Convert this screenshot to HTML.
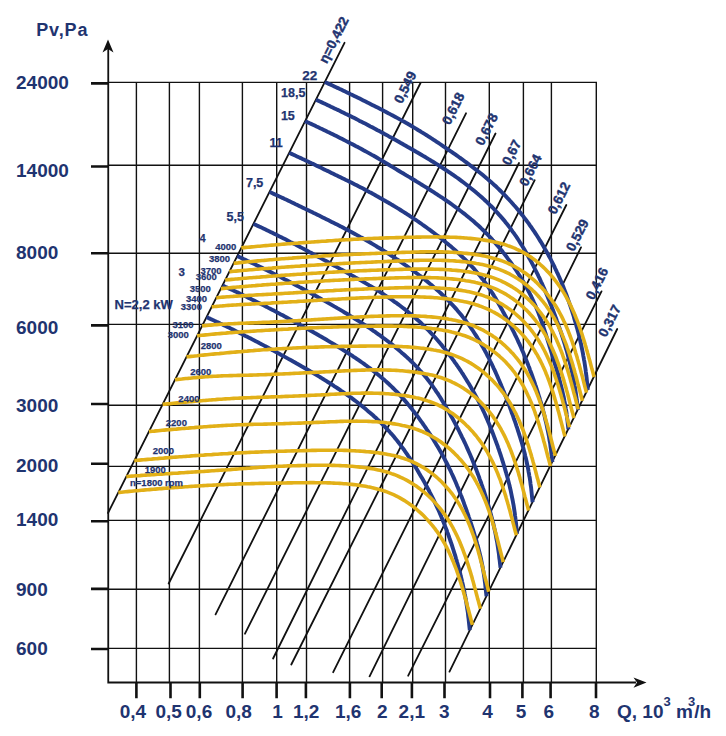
<!DOCTYPE html><html><head><meta charset="utf-8"><style>html,body{margin:0;padding:0;background:#fff;}svg{display:block;}text{font-family:"Liberation Sans",sans-serif;font-weight:bold;}</style></head><body>
<svg width="726" height="736" viewBox="0 0 726 736">
<rect width="726" height="736" fill="#fff"/>
<path d="M108.25,82.4H597M108.25,165.3H597M108.25,253.3H597M108.25,324.4H597M108.25,405.3H597M108.25,466.4H597M108.25,520.4H597M108.25,589.3H597M108.25,648.4H597M136.4,82.4V682.5M169.4,82.4V682.5M199.4,82.4V682.5M242.4,82.4V682.5M276.7,82.4V682.5M306.5,82.4V682.5M349.6,82.4V682.5M382.6,82.4V682.5M412.7,82.4V682.5M445.5,82.4V682.5M489.3,82.4V682.5M523.4,82.4V682.5M551.4,82.4V682.5M596.3,82.4V682.5" stroke="#111" stroke-width="1.4" fill="none"/>
<path d="M108,513L344.5,42.8M168.7,583.5L420.5,83M215.6,614.4L466,113.3M245,633.7L495.5,133.5M273.1,658.5L519,163M291.3,664.5L534.7,180.2M333.2,672.2L566.3,205M369.6,676.3L581,247.4M408.2,675.7L601.5,291.4M449.5,671.6L617.2,329" stroke="#111" stroke-width="1.8" fill="none" stroke-linecap="round"/>
<g fill="none" stroke="#243b88" stroke-width="3.9" stroke-linecap="butt">
<path d="M206.5,317.1 207.5,317.5 209.3,318.4 211.1,319.2 212.9,320.1 214.8,320.9 216.6,321.8 218.4,322.6 220.2,323.5 222.0,324.3 223.8,325.2 225.6,326.1 227.5,327.0 229.3,327.8 231.1,328.7 232.9,329.6 234.7,330.5 236.5,331.4 238.3,332.3 240.1,333.2 241.9,334.1 243.7,335.0 245.4,335.9 247.2,336.8 249.0,337.7 250.8,338.6 252.6,339.6 254.4,340.5 256.2,341.4 257.9,342.3 259.7,343.3 261.5,344.2 263.3,345.1 265.0,346.1 266.8,347.0 268.6,348.0 270.3,348.9 272.1,349.9 273.9,350.8 275.6,351.8 277.4,352.8 279.2,353.7 280.9,354.7 282.7,355.7 284.4,356.6 286.2,357.6 288.0,358.6 289.7,359.6 291.5,360.5 293.2,361.5 295.0,362.5 296.7,363.5 298.5,364.5 300.2,365.5 301.9,366.5 303.7,367.5 305.4,368.5 307.2,369.5 308.9,370.5 310.6,371.5 312.4,372.5 314.1,373.6 315.8,374.6 317.5,375.6 319.3,376.7 321.0,377.7 322.7,378.8 324.4,379.8 326.1,380.9 327.8,382.0 329.5,383.0 331.2,384.1 332.9,385.2 334.5,386.3 336.2,387.4 337.9,388.5 339.6,389.6 341.2,390.8 342.9,391.9 344.5,393.0 346.2,394.2 347.8,395.4 349.4,396.5 351.1,397.7 352.7,398.9 354.3,400.1 355.9,401.3 357.5,402.5 359.1,403.8 360.7,405.0 362.2,406.2 363.8,407.5 365.4,408.8 366.9,410.1 368.4,411.4 370.0,412.7 371.5,414.0 373.0,415.3 374.5,416.7 376.0,418.0 377.4,419.4 378.9,420.8 380.3,422.1 381.8,423.6 383.2,425.0 384.6,426.4 386.0,427.9 387.3,429.3 388.7,430.8 390.0,432.3 391.4,433.8 392.7,435.3 394.0,436.8 395.3,438.4 396.5,439.9 397.8,441.5 399.0,443.1 400.2,444.7 401.4,446.3 402.6,447.9 403.8,449.5 404.9,451.1 406.1,452.8 407.2,454.4 408.3,456.1 409.5,457.7 410.6,459.4 411.6,461.1 412.7,462.8 413.8,464.5 414.9,466.1 415.9,467.8 417.0,469.5 418.0,471.2 419.0,473.0 420.0,474.7 421.0,476.4 422.0,478.1 423.0,479.8 424.0,481.6 425.0,483.3 425.9,485.1 426.9,486.8 427.8,488.6 428.8,490.3 429.7,492.1 430.6,493.8 431.5,495.6 432.4,497.4 433.3,499.2 434.2,501.0 435.0,502.8 435.9,504.6 436.7,506.4 437.5,508.2 438.4,510.0 439.2,511.8 440.0,513.6 440.8,515.5 441.5,517.3 442.3,519.1 443.0,521.0 443.8,522.8 444.5,524.7 445.2,526.5 446.0,528.4 446.7,530.2 447.3,532.1 448.0,534.0 448.7,535.8 449.3,537.7 450.0,539.6 450.6,541.5 451.3,543.3 451.9,545.2 452.5,547.1 453.1,549.0 453.7,550.9 454.3,552.8 454.9,554.7 455.5,556.6 456.0,558.5 456.6,560.4 457.1,562.3 457.7,564.3 458.2,566.2 458.7,568.1 459.2,570.0 459.8,571.9 460.3,573.9 460.7,575.8 461.2,577.7 461.7,579.7 462.1,581.6 462.6,583.6 463.0,585.5 463.4,587.5 463.9,589.4 464.3,591.4 464.6,593.3 465.0,595.3 465.4,597.2 465.7,599.2 466.1,601.2 466.4,603.1 466.7,605.1 467.0,607.1 467.3,609.1 467.6,611.0 467.9,613.0 468.1,615.0 468.3,617.0 468.6,619.0 468.8,621.0 469.8,630.2"/>
<path d="M222.5,285.4 223.3,285.8 225.1,286.7 227.0,287.5 228.8,288.4 230.6,289.2 232.4,290.1 234.3,290.9 236.1,291.8 237.9,292.6 239.7,293.5 241.5,294.4 243.3,295.3 245.1,296.1 246.9,297.0 248.7,297.9 250.5,298.8 252.3,299.7 254.1,300.6 255.9,301.5 257.7,302.4 259.5,303.3 261.3,304.2 263.1,305.1 264.9,306.0 266.7,306.9 268.4,307.9 270.2,308.8 272.0,309.7 273.8,310.6 275.6,311.6 277.3,312.5 279.1,313.4 280.9,314.4 282.7,315.3 284.4,316.3 286.2,317.2 288.0,318.2 289.7,319.1 291.5,320.1 293.3,321.1 295.0,322.0 296.8,323.0 298.5,324.0 300.3,324.9 302.1,325.9 303.8,326.9 305.6,327.9 307.3,328.8 309.1,329.8 310.8,330.8 312.6,331.8 314.3,332.8 316.1,333.8 317.8,334.8 319.5,335.8 321.3,336.8 323.0,337.8 324.8,338.8 326.5,339.8 328.2,340.8 329.9,341.9 331.7,342.9 333.4,343.9 335.1,345.0 336.8,346.0 338.5,347.1 340.2,348.1 341.9,349.2 343.6,350.3 345.3,351.3 347.0,352.4 348.7,353.5 350.4,354.6 352.1,355.7 353.7,356.8 355.4,357.9 357.1,359.1 358.7,360.2 360.4,361.4 362.0,362.5 363.7,363.7 365.3,364.9 366.9,366.0 368.5,367.2 370.1,368.4 371.7,369.7 373.3,370.9 374.9,372.1 376.5,373.4 378.0,374.6 379.6,375.9 381.1,377.2 382.6,378.5 384.2,379.8 385.7,381.1 387.2,382.5 388.6,383.8 390.1,385.2 391.6,386.6 393.0,388.0 394.4,389.4 395.8,390.8 397.2,392.2 398.6,393.7 400.0,395.2 401.3,396.6 402.7,398.1 404.0,399.6 405.3,401.1 406.6,402.6 407.9,404.2 409.2,405.7 410.4,407.3 411.7,408.8 412.9,410.4 414.2,412.0 415.4,413.6 416.6,415.1 417.8,416.7 419.0,418.3 420.1,420.0 421.3,421.6 422.5,423.2 423.6,424.8 424.7,426.5 425.9,428.1 427.0,429.8 428.1,431.4 429.2,433.1 430.3,434.7 431.4,436.4 432.4,438.1 433.5,439.8 434.5,441.5 435.6,443.2 436.6,444.9 437.6,446.6 438.6,448.3 439.6,450.0 440.6,451.8 441.6,453.5 442.5,455.2 443.5,457.0 444.4,458.7 445.3,460.5 446.3,462.3 447.2,464.0 448.1,465.8 448.9,467.6 449.8,469.4 450.7,471.2 451.5,473.0 452.4,474.8 453.2,476.6 454.0,478.4 454.8,480.2 455.6,482.0 456.4,483.9 457.1,485.7 457.9,487.5 458.7,489.4 459.4,491.2 460.1,493.1 460.8,494.9 461.6,496.8 462.3,498.6 463.0,500.5 463.7,502.3 464.3,504.2 465.0,506.1 465.7,507.9 466.4,509.8 467.0,511.7 467.7,513.6 468.3,515.4 468.9,517.3 469.6,519.2 470.2,521.1 470.8,523.0 471.5,524.9 472.1,526.8 472.7,528.7 473.3,530.6 473.9,532.5 474.4,534.4 475.0,536.3 475.6,538.2 476.2,540.1 476.7,542.0 477.2,544.0 477.8,545.9 478.3,547.8 478.8,549.8 479.3,551.7 479.8,553.6 480.2,555.6 480.7,557.5 481.1,559.5 481.5,561.5 481.9,563.4 482.3,565.4 482.7,567.4 483.0,569.3 483.4,571.3 483.7,573.3 484.0,575.3 484.3,577.2 484.6,579.2 484.8,581.2 485.1,583.2 485.3,585.2 485.5,587.2 485.7,589.2 486.5,596.3"/>
<path d="M237.2,256.1 238.0,256.4 239.9,257.3 241.7,258.1 243.5,259.0 245.3,259.8 247.1,260.7 249.0,261.5 250.8,262.4 252.6,263.2 254.4,264.1 256.2,265.0 258.0,265.9 259.8,266.7 261.6,267.6 263.4,268.5 265.2,269.4 267.0,270.3 268.8,271.2 270.6,272.1 272.4,273.0 274.2,273.9 276.0,274.8 277.8,275.7 279.6,276.6 281.4,277.5 283.1,278.5 284.9,279.4 286.7,280.3 288.5,281.2 290.3,282.2 292.0,283.1 293.8,284.0 295.6,285.0 297.4,285.9 299.1,286.9 300.9,287.8 302.7,288.8 304.4,289.7 306.2,290.7 308.0,291.7 309.7,292.6 311.5,293.6 313.2,294.6 315.0,295.5 316.8,296.5 318.5,297.5 320.3,298.5 322.0,299.5 323.8,300.4 325.5,301.4 327.3,302.4 329.0,303.4 330.8,304.4 332.5,305.4 334.2,306.4 336.0,307.4 337.7,308.4 339.5,309.4 341.2,310.4 342.9,311.4 344.6,312.5 346.4,313.5 348.1,314.5 349.8,315.6 351.5,316.6 353.2,317.7 354.9,318.7 356.7,319.8 358.4,320.9 360.0,321.9 361.7,323.0 363.4,324.1 365.1,325.2 366.8,326.3 368.5,327.4 370.1,328.5 371.8,329.7 373.4,330.8 375.1,331.9 376.7,333.1 378.4,334.3 380.0,335.4 381.6,336.6 383.2,337.8 384.9,339.0 386.5,340.2 388.1,341.4 389.6,342.7 391.2,343.9 392.8,345.1 394.4,346.4 395.9,347.7 397.5,349.0 399.0,350.3 400.5,351.6 402.0,352.9 403.6,354.2 405.0,355.5 406.5,356.9 408.0,358.3 409.5,359.6 410.9,361.0 412.3,362.4 413.8,363.9 415.2,365.3 416.6,366.7 417.9,368.2 419.3,369.7 420.6,371.2 422.0,372.7 423.3,374.2 424.6,375.7 425.9,377.3 427.1,378.8 428.4,380.4 429.6,382.0 430.8,383.6 432.0,385.2 433.1,386.8 434.3,388.5 435.4,390.1 436.5,391.8 437.7,393.4 438.7,395.1 439.8,396.8 440.9,398.5 441.9,400.2 443.0,401.9 444.0,403.6 445.0,405.3 446.0,407.0 447.0,408.8 448.0,410.5 449.0,412.2 450.0,414.0 450.9,415.7 451.9,417.4 452.9,419.2 453.8,420.9 454.7,422.7 455.7,424.5 456.6,426.2 457.5,428.0 458.4,429.7 459.3,431.5 460.2,433.3 461.1,435.1 461.9,436.8 462.8,438.6 463.7,440.4 464.5,442.2 465.4,444.0 466.2,445.8 467.0,447.6 467.8,449.4 468.6,451.2 469.4,453.0 470.2,454.8 471.0,456.7 471.8,458.5 472.5,460.3 473.3,462.2 474.0,464.0 474.7,465.8 475.5,467.7 476.2,469.5 476.9,471.4 477.6,473.2 478.3,475.1 479.0,476.9 479.6,478.8 480.3,480.7 481.0,482.5 481.6,484.4 482.3,486.3 482.9,488.2 483.6,490.0 484.2,491.9 484.8,493.8 485.4,495.7 486.0,497.6 486.6,499.5 487.2,501.4 487.8,503.3 488.3,505.2 488.9,507.1 489.4,509.0 490.0,510.9 490.5,512.9 491.0,514.8 491.5,516.7 492.0,518.6 492.5,520.6 493.0,522.5 493.5,524.4 493.9,526.4 494.3,528.3 494.8,530.3 495.2,532.2 495.6,534.2 496.0,536.1 496.3,538.1 496.7,540.1 497.1,542.0 497.4,544.0 497.7,546.0 498.0,548.0 498.3,549.9 498.6,551.9 498.9,553.9 499.1,555.9 499.3,557.9 499.6,559.9 500.5,567.8"/>
<path d="M253.5,223.8 254.2,224.2 256.0,225.0 257.8,225.9 259.6,226.7 261.5,227.6 263.3,228.4 265.1,229.3 266.9,230.2 268.7,231.1 270.5,231.9 272.3,232.8 274.1,233.7 275.9,234.6 277.7,235.5 279.5,236.4 281.3,237.3 283.1,238.2 284.9,239.1 286.7,240.0 288.4,240.9 290.2,241.9 292.0,242.8 293.8,243.7 295.6,244.6 297.3,245.6 299.1,246.5 300.9,247.4 302.7,248.4 304.4,249.3 306.2,250.3 308.0,251.2 309.7,252.2 311.5,253.1 313.3,254.1 315.0,255.0 316.8,256.0 318.6,257.0 320.3,257.9 322.1,258.9 323.8,259.9 325.6,260.8 327.4,261.8 329.1,262.8 330.9,263.7 332.6,264.7 334.4,265.7 336.1,266.6 337.9,267.6 339.7,268.6 341.4,269.6 343.2,270.5 344.9,271.5 346.7,272.5 348.4,273.5 350.2,274.4 351.9,275.4 353.7,276.4 355.4,277.4 357.2,278.4 358.9,279.4 360.7,280.4 362.4,281.3 364.2,282.4 365.9,283.4 367.6,284.4 369.3,285.4 371.1,286.4 372.8,287.5 374.5,288.5 376.2,289.6 377.9,290.6 379.6,291.7 381.3,292.8 383.0,293.9 384.7,295.0 386.3,296.1 388.0,297.2 389.7,298.3 391.3,299.5 393.0,300.6 394.6,301.8 396.3,302.9 397.9,304.1 399.5,305.3 401.1,306.5 402.7,307.7 404.3,308.9 405.9,310.2 407.5,311.4 409.0,312.7 410.6,314.0 412.1,315.2 413.7,316.5 415.2,317.8 416.7,319.2 418.2,320.5 419.7,321.8 421.2,323.2 422.6,324.6 424.1,325.9 425.5,327.3 426.9,328.8 428.3,330.2 429.7,331.6 431.1,333.1 432.5,334.5 433.8,336.0 435.2,337.5 436.5,339.0 437.8,340.5 439.1,342.0 440.4,343.6 441.7,345.1 442.9,346.7 444.2,348.2 445.4,349.8 446.7,351.3 447.9,352.9 449.1,354.5 450.3,356.1 451.5,357.7 452.7,359.3 453.9,360.9 455.0,362.6 456.2,364.2 457.3,365.8 458.4,367.5 459.6,369.1 460.7,370.8 461.8,372.5 462.9,374.1 463.9,375.8 465.0,377.5 466.1,379.2 467.1,380.9 468.1,382.6 469.2,384.3 470.2,386.0 471.2,387.7 472.2,389.5 473.2,391.2 474.1,392.9 475.1,394.7 476.0,396.4 477.0,398.2 477.9,400.0 478.8,401.7 479.7,403.5 480.6,405.3 481.5,407.1 482.4,408.9 483.2,410.7 484.1,412.5 484.9,414.3 485.7,416.1 486.5,417.9 487.3,419.8 488.1,421.6 488.9,423.4 489.6,425.3 490.4,427.1 491.1,429.0 491.9,430.8 492.6,432.7 493.3,434.5 494.0,436.4 494.7,438.2 495.4,440.1 496.1,442.0 496.8,443.9 497.5,445.7 498.1,447.6 498.8,449.5 499.4,451.4 500.1,453.3 500.7,455.2 501.3,457.0 501.9,458.9 502.5,460.8 503.1,462.7 503.7,464.7 504.3,466.6 504.9,468.5 505.4,470.4 506.0,472.3 506.5,474.2 507.1,476.2 507.6,478.1 508.1,480.0 508.6,481.9 509.1,483.9 509.6,485.8 510.0,487.8 510.5,489.7 510.9,491.7 511.3,493.6 511.7,495.6 512.1,497.6 512.5,499.5 512.9,501.5 513.2,503.5 513.6,505.4 513.9,507.4 514.2,509.4 514.5,511.4 514.8,513.3 515.0,515.3 515.3,517.3 515.5,519.3 515.8,521.3 516.0,523.3 516.2,525.3 516.4,527.3 517.0,534.0"/>
<path d="M269.5,191.9 270.2,192.2 272.0,193.0 273.8,193.9 275.6,194.7 277.5,195.6 279.3,196.4 281.1,197.3 282.9,198.1 284.7,199.0 286.6,199.8 288.4,200.7 290.2,201.6 292.0,202.4 293.8,203.3 295.6,204.2 297.4,205.0 299.2,205.9 301.0,206.8 302.8,207.7 304.6,208.6 306.5,209.4 308.3,210.3 310.1,211.2 311.9,212.1 313.7,213.0 315.5,213.8 317.3,214.7 319.1,215.6 320.9,216.5 322.7,217.4 324.5,218.3 326.3,219.2 328.1,220.1 329.9,221.0 331.7,221.9 333.5,222.8 335.3,223.7 337.1,224.6 338.9,225.5 340.7,226.4 342.4,227.3 344.2,228.3 346.0,229.2 347.8,230.1 349.6,231.1 351.3,232.0 353.1,233.0 354.9,234.0 356.6,234.9 358.4,235.9 360.1,236.9 361.9,237.8 363.6,238.8 365.4,239.8 367.1,240.8 368.9,241.8 370.6,242.8 372.4,243.9 374.1,244.9 375.8,245.9 377.5,247.0 379.3,248.0 381.0,249.0 382.7,250.1 384.4,251.2 386.1,252.2 387.8,253.3 389.5,254.4 391.2,255.5 392.9,256.6 394.6,257.7 396.2,258.8 397.9,259.9 399.6,261.1 401.2,262.2 402.9,263.4 404.6,264.5 406.2,265.7 407.8,266.8 409.5,268.0 411.1,269.2 412.7,270.4 414.4,271.6 416.0,272.8 417.6,274.0 419.2,275.2 420.8,276.4 422.4,277.7 424.0,278.9 425.5,280.2 427.1,281.4 428.7,282.7 430.2,284.0 431.8,285.3 433.3,286.6 434.8,287.9 436.3,289.2 437.8,290.6 439.3,291.9 440.8,293.3 442.3,294.7 443.7,296.0 445.2,297.5 446.6,298.9 448.1,300.3 449.5,301.7 450.9,303.2 452.2,304.7 453.6,306.1 455.0,307.6 456.3,309.1 457.6,310.7 458.9,312.2 460.2,313.7 461.5,315.3 462.7,316.9 464.0,318.5 465.2,320.0 466.4,321.7 467.6,323.3 468.8,324.9 470.0,326.5 471.1,328.2 472.3,329.8 473.4,331.5 474.5,333.2 475.6,334.9 476.7,336.6 477.7,338.3 478.8,340.0 479.8,341.7 480.8,343.5 481.8,345.2 482.8,346.9 483.8,348.7 484.7,350.4 485.7,352.2 486.6,354.0 487.5,355.8 488.5,357.5 489.4,359.3 490.2,361.1 491.1,362.9 492.0,364.7 492.9,366.5 493.7,368.3 494.6,370.1 495.4,371.9 496.2,373.7 497.0,375.6 497.8,377.4 498.6,379.2 499.4,381.0 500.2,382.9 501.0,384.7 501.7,386.5 502.5,388.4 503.2,390.2 504.0,392.1 504.7,393.9 505.4,395.8 506.2,397.6 506.9,399.5 507.6,401.3 508.3,403.2 509.0,405.0 509.7,406.9 510.4,408.7 511.1,410.6 511.7,412.5 512.4,414.3 513.1,416.2 513.7,418.1 514.4,420.0 515.1,421.8 515.7,423.7 516.3,425.6 517.0,427.5 517.6,429.4 518.2,431.3 518.8,433.2 519.4,435.1 520.0,437.0 520.6,438.9 521.2,440.8 521.8,442.7 522.3,444.6 522.8,446.5 523.4,448.4 523.9,450.4 524.4,452.3 524.9,454.2 525.3,456.2 525.8,458.1 526.3,460.1 526.7,462.0 527.1,464.0 527.5,465.9 527.9,467.9 528.3,469.9 528.6,471.8 529.0,473.8 529.3,475.8 529.7,477.7 530.0,479.7 530.3,481.7 530.5,483.7 530.8,485.7 531.1,487.6 531.3,489.6 531.5,491.6 531.7,493.6 531.9,495.6 532.6,502.3"/>
<path d="M289.2,152.8 289.7,153.1 291.6,153.9 293.4,154.7 295.2,155.6 297.0,156.4 298.9,157.3 300.7,158.1 302.5,159.0 304.3,159.8 306.1,160.7 308.0,161.5 309.8,162.4 311.6,163.3 313.4,164.1 315.2,165.0 317.0,165.9 318.8,166.7 320.6,167.6 322.4,168.5 324.2,169.4 326.0,170.3 327.9,171.1 329.7,172.0 331.5,172.9 333.3,173.8 335.1,174.7 336.9,175.5 338.7,176.4 340.5,177.3 342.3,178.2 344.1,179.1 345.9,180.0 347.7,180.8 349.5,181.7 351.3,182.6 353.1,183.5 354.9,184.4 356.7,185.3 358.5,186.3 360.3,187.2 362.1,188.1 363.9,189.0 365.6,190.0 367.4,190.9 369.2,191.9 371.0,192.8 372.7,193.8 374.5,194.7 376.2,195.7 378.0,196.7 379.7,197.7 381.5,198.7 383.2,199.7 385.0,200.7 386.7,201.7 388.5,202.7 390.2,203.7 391.9,204.8 393.6,205.8 395.4,206.8 397.1,207.9 398.8,208.9 400.5,210.0 402.2,211.1 403.9,212.2 405.6,213.2 407.3,214.3 409.0,215.4 410.7,216.5 412.3,217.6 414.0,218.8 415.7,219.9 417.3,221.0 419.0,222.2 420.7,223.3 422.3,224.5 423.9,225.6 425.6,226.8 427.2,228.0 428.8,229.2 430.5,230.4 432.1,231.6 433.7,232.8 435.3,234.0 436.9,235.2 438.5,236.4 440.1,237.7 441.7,238.9 443.2,240.2 444.8,241.4 446.3,242.7 447.9,244.0 449.4,245.3 451.0,246.6 452.5,247.9 454.0,249.2 455.5,250.5 457.0,251.9 458.5,253.2 460.0,254.6 461.4,256.0 462.9,257.4 464.3,258.8 465.8,260.2 467.2,261.6 468.6,263.1 470.0,264.5 471.3,266.0 472.7,267.4 474.1,268.9 475.4,270.4 476.7,272.0 478.0,273.5 479.3,275.0 480.6,276.6 481.8,278.2 483.1,279.7 484.3,281.3 485.5,283.0 486.6,284.6 487.8,286.2 488.9,287.9 490.0,289.5 491.1,291.2 492.2,292.9 493.3,294.6 494.3,296.3 495.4,298.0 496.4,299.8 497.4,301.5 498.4,303.2 499.4,305.0 500.3,306.7 501.3,308.5 502.3,310.2 503.2,312.0 504.2,313.7 505.1,315.5 506.1,317.2 507.0,319.0 508.0,320.7 508.9,322.5 509.8,324.3 510.7,326.0 511.6,327.8 512.5,329.6 513.4,331.4 514.3,333.1 515.1,334.9 516.0,336.7 516.9,338.5 517.7,340.3 518.5,342.1 519.4,343.9 520.2,345.7 521.0,347.5 521.8,349.4 522.6,351.2 523.4,353.0 524.1,354.8 524.9,356.7 525.6,358.5 526.4,360.4 527.1,362.2 527.8,364.0 528.5,365.9 529.3,367.8 529.9,369.6 530.6,371.5 531.3,373.3 532.0,375.2 532.7,377.1 533.3,379.0 534.0,380.8 534.6,382.7 535.2,384.6 535.9,386.5 536.5,388.4 537.1,390.3 537.7,392.2 538.3,394.1 538.9,396.0 539.5,397.9 540.0,399.8 540.6,401.7 541.2,403.6 541.7,405.5 542.2,407.4 542.8,409.4 543.3,411.3 543.8,413.2 544.3,415.1 544.8,417.1 545.2,419.0 545.7,421.0 546.2,422.9 546.6,424.9 547.0,426.8 547.4,428.8 547.8,430.7 548.2,432.7 548.6,434.7 549.0,436.6 549.3,438.6 549.6,440.6 550.0,442.5 550.3,444.5 550.5,446.5 550.8,448.5 551.1,450.5 551.3,452.5 551.5,454.5 551.8,456.4 552.4,462.1"/>
<path d="M305.1,121.1 305.6,121.4 307.4,122.2 309.2,123.1 311.1,123.9 312.9,124.7 314.7,125.6 316.5,126.5 318.3,127.3 320.1,128.2 322.0,129.0 323.8,129.9 325.6,130.8 327.4,131.7 329.2,132.5 331.0,133.4 332.8,134.3 334.6,135.2 336.4,136.1 338.2,137.0 340.0,137.9 341.8,138.8 343.6,139.7 345.3,140.6 347.1,141.6 348.9,142.5 350.7,143.4 352.5,144.3 354.3,145.3 356.0,146.2 357.8,147.1 359.6,148.1 361.4,149.0 363.1,150.0 364.9,151.0 366.6,151.9 368.4,152.9 370.2,153.9 371.9,154.9 373.7,155.8 375.4,156.8 377.1,157.8 378.9,158.9 380.6,159.9 382.3,160.9 384.1,161.9 385.8,163.0 387.5,164.0 389.2,165.0 390.9,166.1 392.7,167.1 394.4,168.1 396.1,169.2 397.8,170.2 399.5,171.2 401.3,172.3 403.0,173.3 404.7,174.3 406.4,175.4 408.1,176.4 409.9,177.4 411.6,178.5 413.3,179.5 415.0,180.5 416.7,181.6 418.4,182.6 420.1,183.7 421.8,184.7 423.6,185.8 425.3,186.8 427.0,187.9 428.6,189.0 430.3,190.0 432.0,191.1 433.7,192.2 435.4,193.3 437.1,194.4 438.8,195.5 440.4,196.6 442.1,197.7 443.8,198.8 445.4,199.9 447.1,201.1 448.7,202.2 450.4,203.4 452.0,204.5 453.6,205.7 455.2,206.9 456.9,208.0 458.5,209.2 460.1,210.5 461.7,211.7 463.2,212.9 464.8,214.1 466.4,215.4 468.0,216.7 469.5,217.9 471.0,219.2 472.6,220.5 474.1,221.8 475.6,223.2 477.1,224.5 478.6,225.8 480.1,227.2 481.5,228.6 483.0,230.0 484.4,231.4 485.8,232.8 487.2,234.2 488.6,235.7 490.0,237.1 491.4,238.6 492.7,240.1 494.1,241.6 495.4,243.1 496.7,244.6 498.0,246.1 499.3,247.7 500.6,249.2 501.9,250.8 503.1,252.4 504.4,254.0 505.6,255.5 506.8,257.1 508.0,258.8 509.2,260.4 510.4,262.0 511.6,263.6 512.7,265.3 513.9,266.9 515.0,268.6 516.1,270.3 517.2,272.0 518.3,273.7 519.4,275.4 520.4,277.1 521.5,278.8 522.5,280.5 523.6,282.2 524.6,284.0 525.6,285.7 526.5,287.5 527.5,289.2 528.4,291.0 529.4,292.8 530.3,294.6 531.2,296.4 532.0,298.2 532.9,300.0 533.7,301.8 534.6,303.7 535.4,305.5 536.2,307.4 536.9,309.2 537.7,311.1 538.4,312.9 539.1,314.8 539.8,316.7 540.5,318.6 541.2,320.5 541.9,322.3 542.5,324.2 543.2,326.1 543.8,328.0 544.4,329.9 545.0,331.8 545.6,333.7 546.2,335.6 546.8,337.5 547.4,339.4 548.0,341.3 548.6,343.3 549.2,345.2 549.8,347.1 550.4,349.0 551.0,350.9 551.5,352.8 552.1,354.7 552.7,356.6 553.3,358.5 553.9,360.4 554.4,362.3 555.0,364.2 555.6,366.1 556.2,368.0 556.7,369.9 557.3,371.8 557.8,373.8 558.4,375.7 558.9,377.6 559.4,379.5 559.9,381.4 560.4,383.4 560.9,385.3 561.4,387.3 561.9,389.2 562.4,391.1 562.8,393.1 563.2,395.1 563.7,397.0 564.1,399.0 564.4,400.9 564.8,402.9 565.2,404.9 565.5,406.8 565.8,408.8 566.2,410.8 566.5,412.8 566.7,414.8 567.0,416.8 567.2,418.7 567.5,420.7 567.7,422.7 567.9,424.7 568.4,429.4"/>
<path d="M315.9,99.7 316.3,99.9 318.2,100.7 320.0,101.6 321.8,102.4 323.6,103.2 325.5,104.1 327.3,104.9 329.1,105.8 330.9,106.7 332.7,107.5 334.5,108.4 336.4,109.3 338.2,110.1 340.0,111.0 341.8,111.9 343.6,112.8 345.4,113.7 347.2,114.5 349.0,115.4 350.8,116.3 352.6,117.2 354.4,118.1 356.2,119.0 357.9,119.9 359.7,120.9 361.5,121.8 363.3,122.7 365.1,123.6 366.9,124.5 368.7,125.5 370.4,126.4 372.2,127.3 374.0,128.3 375.8,129.2 377.5,130.2 379.3,131.1 381.1,132.1 382.8,133.0 384.6,134.0 386.4,134.9 388.1,135.9 389.9,136.9 391.7,137.8 393.4,138.8 395.2,139.8 396.9,140.7 398.7,141.7 400.4,142.7 402.2,143.7 403.9,144.7 405.7,145.7 407.4,146.7 409.2,147.7 410.9,148.7 412.7,149.7 414.4,150.7 416.1,151.7 417.9,152.7 419.6,153.7 421.3,154.7 423.1,155.8 424.8,156.8 426.5,157.8 428.2,158.9 429.9,159.9 431.6,161.0 433.4,162.0 435.1,163.1 436.8,164.2 438.5,165.2 440.2,166.3 441.8,167.4 443.5,168.5 445.2,169.6 446.9,170.7 448.6,171.8 450.2,172.9 451.9,174.1 453.5,175.2 455.2,176.4 456.8,177.5 458.5,178.7 460.1,179.9 461.7,181.1 463.3,182.3 464.9,183.5 466.5,184.7 468.1,185.9 469.7,187.2 471.2,188.4 472.8,189.7 474.4,191.0 475.9,192.3 477.4,193.6 479.0,194.9 480.5,196.2 482.0,197.5 483.5,198.9 484.9,200.2 486.4,201.6 487.9,203.0 489.3,204.4 490.7,205.8 492.2,207.2 493.6,208.7 495.0,210.1 496.3,211.6 497.7,213.1 499.0,214.6 500.4,216.1 501.7,217.6 503.0,219.1 504.3,220.6 505.5,222.2 506.8,223.8 508.0,225.3 509.2,226.9 510.5,228.5 511.6,230.1 512.8,231.8 514.0,233.4 515.1,235.0 516.3,236.7 517.4,238.3 518.5,240.0 519.6,241.7 520.6,243.4 521.7,245.1 522.7,246.8 523.8,248.5 524.8,250.2 525.8,251.9 526.8,253.7 527.8,255.4 528.7,257.2 529.7,258.9 530.7,260.7 531.6,262.4 532.5,264.2 533.4,265.9 534.3,267.7 535.2,269.5 536.1,271.3 537.0,273.1 537.9,274.9 538.7,276.6 539.6,278.4 540.4,280.2 541.2,282.0 542.1,283.9 542.9,285.7 543.7,287.5 544.5,289.3 545.2,291.1 546.0,292.9 546.8,294.8 547.6,296.6 548.3,298.4 549.1,300.3 549.8,302.1 550.5,303.9 551.3,305.8 552.0,307.6 552.7,309.5 553.4,311.3 554.1,313.2 554.8,315.0 555.5,316.9 556.2,318.7 556.8,320.6 557.5,322.4 558.2,324.3 558.8,326.2 559.5,328.1 560.1,329.9 560.8,331.8 561.4,333.7 562.0,335.6 562.6,337.4 563.2,339.3 563.8,341.2 564.4,343.1 565.0,345.0 565.5,346.9 566.1,348.8 566.7,350.7 567.2,352.6 567.7,354.6 568.2,356.5 568.7,358.4 569.2,360.3 569.7,362.3 570.2,364.2 570.7,366.1 571.1,368.1 571.5,370.0 572.0,371.9 572.4,373.9 572.8,375.8 573.2,377.8 573.6,379.7 573.9,381.7 574.3,383.7 574.6,385.6 575.0,387.6 575.3,389.6 575.6,391.5 575.9,393.5 576.2,395.5 576.5,397.5 576.7,399.4 577.0,401.4 577.2,403.4 578.0,409.9"/>
<path d="M324.8,82.0 325.2,82.2 327.0,83.0 328.8,83.9 330.7,84.7 332.5,85.6 334.3,86.4 336.1,87.3 337.9,88.1 339.8,89.0 341.6,89.8 343.4,90.7 345.2,91.6 347.0,92.4 348.8,93.3 350.6,94.2 352.4,95.0 354.2,95.9 356.0,96.8 357.9,97.7 359.7,98.6 361.5,99.5 363.3,100.4 365.1,101.3 366.9,102.2 368.6,103.1 370.4,104.0 372.2,104.9 374.0,105.8 375.8,106.7 377.6,107.6 379.4,108.5 381.2,109.4 383.0,110.4 384.7,111.3 386.5,112.2 388.3,113.2 390.1,114.1 391.8,115.1 393.6,116.0 395.4,117.0 397.1,117.9 398.9,118.9 400.7,119.9 402.4,120.9 404.2,121.8 405.9,122.8 407.7,123.8 409.4,124.8 411.1,125.8 412.9,126.9 414.6,127.9 416.3,128.9 418.0,130.0 419.8,131.0 421.5,132.1 423.2,133.1 424.9,134.2 426.6,135.2 428.3,136.3 430.0,137.4 431.6,138.5 433.3,139.6 435.0,140.7 436.7,141.8 438.4,142.9 440.0,144.0 441.7,145.2 443.4,146.3 445.0,147.4 446.7,148.5 448.3,149.7 450.0,150.8 451.6,151.9 453.3,153.1 454.9,154.2 456.6,155.4 458.2,156.5 459.8,157.7 461.5,158.9 463.1,160.0 464.7,161.2 466.3,162.4 467.9,163.6 469.5,164.8 471.1,166.0 472.7,167.2 474.3,168.4 475.9,169.6 477.5,170.8 479.0,172.1 480.6,173.3 482.2,174.6 483.7,175.8 485.2,177.1 486.8,178.4 488.3,179.7 489.8,181.0 491.3,182.3 492.8,183.6 494.3,185.0 495.8,186.3 497.2,187.7 498.7,189.1 500.1,190.5 501.5,191.9 502.9,193.3 504.3,194.7 505.7,196.1 507.1,197.6 508.5,199.0 509.8,200.5 511.2,202.0 512.5,203.5 513.8,205.0 515.2,206.5 516.5,208.0 517.7,209.5 519.0,211.1 520.3,212.6 521.5,214.2 522.8,215.7 524.0,217.3 525.2,218.9 526.4,220.5 527.6,222.1 528.8,223.7 529.9,225.4 531.1,227.0 532.2,228.6 533.4,230.3 534.5,231.9 535.6,233.6 536.7,235.3 537.8,237.0 538.9,238.7 539.9,240.4 541.0,242.1 542.0,243.8 543.0,245.5 544.0,247.2 545.0,249.0 546.0,250.7 547.0,252.4 548.0,254.2 548.9,256.0 549.9,257.7 550.8,259.5 551.7,261.3 552.6,263.1 553.5,264.9 554.4,266.7 555.2,268.5 556.1,270.3 556.9,272.1 557.8,273.9 558.6,275.7 559.4,277.6 560.2,279.4 561.0,281.2 561.7,283.1 562.5,284.9 563.3,286.8 564.0,288.6 564.7,290.5 565.4,292.4 566.2,294.2 566.9,296.1 567.5,298.0 568.2,299.9 568.9,301.8 569.5,303.6 570.2,305.5 570.8,307.4 571.5,309.3 572.1,311.2 572.7,313.1 573.3,315.0 573.9,317.0 574.4,318.9 575.0,320.8 575.6,322.7 576.1,324.6 576.6,326.6 577.2,328.5 577.7,330.4 578.2,332.4 578.7,334.3 579.2,336.3 579.6,338.2 580.1,340.1 580.5,342.1 581.0,344.0 581.4,346.0 581.8,348.0 582.2,349.9 582.6,351.9 583.0,353.9 583.3,355.8 583.7,357.8 584.0,359.8 584.4,361.7 584.7,363.7 585.0,365.7 585.3,367.7 585.6,369.7 585.8,371.7 586.1,373.6 586.3,375.6 586.6,377.6 586.8,379.6 587.0,381.6 587.2,383.6 587.4,385.6 587.8,389.9"/>
</g>
<g fill="none" stroke="#e2b018" stroke-width="3.6" stroke-linecap="butt">
<path d="M118.3,492.5 119.4,492.4 121.4,492.2 123.4,492.0 125.4,491.8 127.4,491.6 129.4,491.4 131.4,491.2 133.4,491.0 135.4,490.8 137.4,490.7 139.4,490.5 141.4,490.3 143.4,490.1 145.4,489.9 147.4,489.8 149.4,489.6 151.4,489.4 153.4,489.3 155.4,489.1 157.4,488.9 159.4,488.8 161.4,488.6 163.4,488.4 165.4,488.3 167.4,488.1 169.4,488.0 171.4,487.8 173.4,487.7 175.4,487.5 177.4,487.4 179.4,487.2 181.4,487.1 183.4,487.0 185.4,486.8 187.4,486.7 189.4,486.5 191.4,486.4 193.5,486.3 195.5,486.1 197.5,486.0 199.5,485.9 201.5,485.8 203.5,485.6 205.5,485.5 207.5,485.4 209.5,485.3 211.5,485.2 213.5,485.1 215.5,485.0 217.5,484.9 219.5,484.8 221.5,484.7 223.5,484.6 225.5,484.5 227.5,484.4 229.5,484.3 231.5,484.2 233.6,484.2 235.6,484.1 237.6,484.0 239.6,483.9 241.6,483.9 243.6,483.8 245.6,483.8 247.6,483.7 249.6,483.7 251.6,483.6 253.6,483.6 255.6,483.5 257.6,483.5 259.6,483.4 261.7,483.4 263.7,483.4 265.7,483.3 267.7,483.3 269.7,483.3 271.7,483.2 273.7,483.2 275.7,483.1 277.7,483.1 279.7,483.1 281.7,483.0 283.7,483.0 285.7,483.0 287.7,482.9 289.8,482.9 291.8,482.9 293.8,482.8 295.8,482.8 297.8,482.8 299.8,482.7 301.8,482.7 303.8,482.7 305.8,482.7 307.8,482.7 309.8,482.6 311.8,482.6 313.8,482.6 315.8,482.7 317.8,482.7 319.8,482.7 321.8,482.7 323.8,482.8 325.8,482.8 327.8,482.9 329.8,482.9 331.8,483.0 333.8,483.1 335.8,483.2 337.8,483.3 339.8,483.4 341.8,483.5 343.8,483.7 345.8,483.8 347.8,484.0 349.8,484.2 351.8,484.4 353.8,484.6 355.7,484.8 357.7,485.1 359.7,485.4 361.7,485.7 363.7,486.0 365.6,486.3 367.6,486.7 369.5,487.0 371.5,487.5 373.4,487.9 375.4,488.4 377.3,488.9 379.2,489.4 381.1,490.0 383.0,490.6 384.9,491.2 386.8,491.9 388.6,492.6 390.4,493.3 392.3,494.1 394.1,494.9 395.9,495.8 397.6,496.7 399.4,497.6 401.1,498.6 402.8,499.6 404.5,500.6 406.2,501.7 407.8,502.8 409.5,503.9 411.1,505.0 412.7,506.2 414.2,507.4 415.8,508.7 417.3,510.0 418.8,511.3 420.3,512.6 421.7,513.9 423.2,515.3 424.6,516.7 425.9,518.1 427.3,519.6 428.6,521.1 429.9,522.6 431.2,524.1 432.5,525.6 433.7,527.2 434.9,528.7 436.1,530.3 437.3,531.9 438.4,533.6 439.5,535.2 440.6,536.9 441.6,538.6 442.7,540.3 443.7,542.0 444.7,543.7 445.6,545.5 446.6,547.2 447.5,549.0 448.4,550.8 449.2,552.6 450.1,554.4 450.9,556.2 451.7,558.1 452.5,559.9 453.3,561.7 454.0,563.6 454.8,565.5 455.5,567.3 456.2,569.2 456.9,571.1 457.5,573.0 458.2,574.9 458.8,576.8 459.5,578.7 460.1,580.6 460.7,582.5 461.3,584.4 461.9,586.3 462.5,588.2 463.0,590.2 463.6,592.1 464.1,594.0 464.7,595.9 465.2,597.9 465.8,599.8 466.3,601.8 466.8,603.7 467.3,605.6 467.8,607.6 468.4,609.5 468.9,611.5 469.4,613.4 469.9,615.3 470.4,617.3 470.9,619.2 472.4,624.9"/>
<path d="M126.3,476.6 127.8,476.5 129.8,476.3 131.8,476.1 133.8,476.0 135.8,475.8 137.8,475.7 139.8,475.6 141.8,475.4 143.8,475.3 145.8,475.1 147.8,475.0 149.8,474.9 151.8,474.7 153.8,474.6 155.8,474.5 157.8,474.3 159.8,474.2 161.8,474.1 163.8,474.0 165.8,473.8 167.8,473.7 169.8,473.6 171.8,473.4 173.8,473.3 175.8,473.2 177.8,473.1 179.8,472.9 181.8,472.8 183.8,472.7 185.8,472.5 187.8,472.4 189.9,472.3 191.9,472.1 193.9,472.0 195.9,471.9 197.9,471.8 199.9,471.6 201.9,471.5 203.9,471.4 205.9,471.2 207.9,471.1 209.9,471.0 211.9,470.8 213.9,470.7 215.9,470.5 217.9,470.4 219.9,470.3 221.9,470.1 223.9,470.0 225.9,469.9 227.9,469.7 229.9,469.6 231.9,469.4 233.9,469.3 235.9,469.1 237.9,469.0 239.9,468.8 241.9,468.7 243.9,468.5 245.9,468.4 247.9,468.2 249.9,468.1 251.9,467.9 253.9,467.8 255.9,467.6 257.9,467.5 259.9,467.3 261.9,467.2 263.9,467.1 265.9,467.0 267.9,466.8 269.9,466.7 271.9,466.6 273.9,466.5 276.0,466.4 278.0,466.3 280.0,466.2 282.0,466.2 284.0,466.1 286.0,466.0 288.0,465.9 290.0,465.9 292.0,465.8 294.0,465.7 296.0,465.7 298.0,465.6 300.0,465.6 302.0,465.5 304.0,465.5 306.1,465.4 308.1,465.4 310.1,465.4 312.1,465.3 314.1,465.3 316.1,465.3 318.1,465.3 320.1,465.3 322.1,465.3 324.1,465.3 326.1,465.3 328.1,465.3 330.1,465.3 332.1,465.4 334.1,465.4 336.1,465.5 338.2,465.5 340.2,465.6 342.2,465.7 344.2,465.8 346.2,465.9 348.2,466.0 350.2,466.2 352.2,466.3 354.2,466.5 356.2,466.7 358.2,466.9 360.1,467.1 362.1,467.3 364.1,467.5 366.1,467.8 368.1,468.1 370.1,468.4 372.1,468.7 374.0,469.1 376.0,469.5 378.0,469.9 379.9,470.3 381.8,470.8 383.8,471.3 385.7,471.8 387.6,472.3 389.5,472.9 391.4,473.6 393.3,474.2 395.2,474.9 397.0,475.7 398.9,476.5 400.7,477.3 402.5,478.1 404.3,479.0 406.0,479.9 407.8,480.9 409.5,481.9 411.2,482.9 412.9,483.9 414.5,485.0 416.2,486.1 417.8,487.3 419.4,488.4 421.0,489.6 422.5,490.9 424.1,492.1 425.6,493.4 427.1,494.7 428.5,496.0 430.0,497.4 431.4,498.8 432.8,500.2 434.1,501.6 435.5,503.1 436.8,504.6 438.1,506.1 439.4,507.6 440.6,509.1 441.8,510.7 443.0,512.3 444.2,513.9 445.4,515.5 446.5,517.1 447.6,518.8 448.6,520.5 449.7,522.2 450.7,523.9 451.7,525.6 452.7,527.3 453.6,529.1 454.5,530.8 455.4,532.6 456.3,534.4 457.2,536.2 458.0,538.0 458.8,539.8 459.6,541.6 460.4,543.5 461.1,545.3 461.9,547.2 462.6,549.0 463.3,550.9 464.0,552.8 464.7,554.7 465.4,556.5 466.0,558.4 466.7,560.3 467.3,562.2 467.9,564.1 468.5,566.0 469.1,568.0 469.7,569.9 470.3,571.8 470.9,573.7 471.4,575.6 472.0,577.6 472.5,579.5 473.1,581.4 473.6,583.4 474.1,585.3 474.6,587.2 475.2,589.2 475.7,591.1 476.2,593.1 476.7,595.0 477.2,596.9 477.7,598.9 478.3,600.8 478.8,602.8 480.4,608.7"/>
<path d="M134.3,460.6 135.6,460.5 137.6,460.3 139.6,460.1 141.6,459.9 143.6,459.8 145.6,459.6 147.6,459.4 149.6,459.2 151.6,459.1 153.6,458.9 155.6,458.7 157.6,458.6 159.6,458.4 161.6,458.2 163.6,458.1 165.6,457.9 167.6,457.7 169.6,457.6 171.6,457.4 173.6,457.3 175.6,457.1 177.6,457.0 179.6,456.8 181.6,456.7 183.6,456.5 185.6,456.4 187.6,456.2 189.6,456.1 191.6,455.9 193.6,455.8 195.6,455.6 197.6,455.5 199.6,455.4 201.6,455.2 203.6,455.1 205.6,454.9 207.6,454.8 209.7,454.7 211.7,454.6 213.7,454.4 215.7,454.3 217.7,454.2 219.7,454.0 221.7,453.9 223.7,453.8 225.7,453.7 227.7,453.6 229.7,453.4 231.7,453.3 233.7,453.2 235.7,453.1 237.7,453.0 239.7,452.9 241.7,452.8 243.7,452.7 245.7,452.6 247.7,452.5 249.7,452.4 251.7,452.3 253.7,452.2 255.7,452.1 257.8,452.1 259.8,452.0 261.8,451.9 263.8,451.8 265.8,451.7 267.8,451.7 269.8,451.6 271.8,451.5 273.8,451.5 275.8,451.4 277.8,451.3 279.8,451.3 281.8,451.2 283.8,451.2 285.8,451.1 287.8,451.0 289.9,451.0 291.9,450.9 293.9,450.9 295.9,450.8 297.9,450.8 299.9,450.7 301.9,450.7 303.9,450.6 305.9,450.6 307.9,450.5 309.9,450.5 311.9,450.4 313.9,450.4 315.9,450.4 317.9,450.3 319.9,450.3 322.0,450.3 324.0,450.3 326.0,450.2 328.0,450.2 330.0,450.2 332.0,450.2 334.0,450.2 336.0,450.2 338.0,450.3 340.0,450.3 342.0,450.3 344.0,450.4 346.0,450.4 348.0,450.5 350.0,450.6 352.0,450.7 354.0,450.7 356.0,450.9 358.0,451.0 360.0,451.1 362.0,451.2 364.0,451.4 366.0,451.6 368.0,451.7 370.0,451.9 372.0,452.1 373.9,452.3 375.9,452.6 377.9,452.8 379.9,453.1 381.9,453.4 383.9,453.7 385.8,454.0 387.8,454.4 389.8,454.8 391.7,455.2 393.7,455.6 395.6,456.1 397.6,456.6 399.5,457.1 401.4,457.7 403.4,458.3 405.3,459.0 407.2,459.6 409.0,460.4 410.9,461.1 412.8,461.9 414.6,462.8 416.4,463.7 418.2,464.6 420.0,465.6 421.7,466.6 423.5,467.6 425.2,468.7 426.9,469.8 428.5,471.0 430.2,472.1 431.8,473.4 433.4,474.6 435.0,475.9 436.5,477.2 438.0,478.5 439.5,479.9 441.0,481.3 442.4,482.7 443.8,484.2 445.2,485.7 446.6,487.2 447.9,488.7 449.2,490.2 450.5,491.8 451.8,493.4 453.0,495.0 454.2,496.7 455.3,498.3 456.5,500.0 457.6,501.7 458.7,503.4 459.7,505.1 460.7,506.9 461.7,508.6 462.7,510.4 463.6,512.2 464.5,514.0 465.4,515.8 466.3,517.7 467.1,519.5 467.9,521.4 468.7,523.2 469.5,525.1 470.2,527.0 470.9,528.8 471.6,530.7 472.3,532.6 473.0,534.5 473.7,536.4 474.3,538.3 474.9,540.2 475.5,542.2 476.1,544.1 476.7,546.0 477.3,547.9 477.9,549.9 478.4,551.8 478.9,553.7 479.5,555.7 480.0,557.6 480.5,559.6 481.0,561.5 481.6,563.4 482.1,565.4 482.6,567.3 483.1,569.3 483.5,571.2 484.0,573.2 484.5,575.1 485.0,577.1 485.5,579.0 486.0,581.0 486.5,582.9 487.0,584.9 487.5,586.8 488.7,591.7"/>
<path d="M149.0,431.6 150.2,431.4 152.2,431.2 154.2,431.1 156.2,430.9 158.2,430.7 160.2,430.5 162.2,430.3 164.2,430.1 166.2,429.9 168.2,429.8 170.2,429.6 172.2,429.4 174.2,429.2 176.2,429.1 178.2,428.9 180.2,428.7 182.2,428.5 184.2,428.4 186.2,428.2 188.2,428.1 190.2,427.9 192.2,427.7 194.2,427.6 196.2,427.4 198.2,427.3 200.2,427.1 202.2,427.0 204.2,426.8 206.2,426.7 208.2,426.5 210.2,426.4 212.2,426.3 214.2,426.1 216.3,426.0 218.3,425.9 220.3,425.8 222.3,425.6 224.3,425.5 226.3,425.4 228.3,425.3 230.3,425.2 232.3,425.1 234.3,425.0 236.3,424.9 238.3,424.8 240.3,424.8 242.3,424.7 244.3,424.6 246.3,424.6 248.3,424.5 250.3,424.4 252.3,424.4 254.4,424.3 256.4,424.3 258.4,424.2 260.4,424.2 262.4,424.2 264.4,424.1 266.4,424.1 268.4,424.0 270.4,424.0 272.4,423.9 274.4,423.9 276.4,423.8 278.4,423.8 280.4,423.7 282.4,423.7 284.4,423.6 286.5,423.5 288.5,423.5 290.5,423.4 292.5,423.3 294.5,423.3 296.5,423.2 298.5,423.1 300.5,423.1 302.5,423.0 304.5,422.9 306.5,422.8 308.5,422.8 310.5,422.7 312.5,422.6 314.5,422.5 316.5,422.4 318.5,422.4 320.5,422.3 322.5,422.2 324.5,422.1 326.6,422.0 328.6,421.9 330.6,421.8 332.6,421.8 334.6,421.7 336.6,421.6 338.6,421.5 340.6,421.4 342.6,421.4 344.6,421.3 346.6,421.3 348.6,421.2 350.6,421.2 352.6,421.2 354.6,421.2 356.6,421.1 358.6,421.2 360.6,421.2 362.6,421.2 364.6,421.3 366.6,421.3 368.6,421.4 370.6,421.5 372.6,421.6 374.6,421.7 376.6,421.8 378.6,422.0 380.6,422.2 382.6,422.3 384.6,422.5 386.6,422.8 388.6,423.0 390.6,423.3 392.5,423.6 394.5,423.9 396.5,424.2 398.5,424.6 400.4,424.9 402.4,425.4 404.3,425.8 406.3,426.3 408.2,426.8 410.1,427.3 412.1,427.9 414.0,428.5 415.9,429.1 417.7,429.8 419.6,430.5 421.5,431.2 423.3,432.0 425.1,432.8 426.9,433.7 428.7,434.6 430.5,435.5 432.2,436.5 433.9,437.5 435.6,438.5 437.3,439.6 439.0,440.7 440.6,441.8 442.2,443.0 443.8,444.2 445.4,445.4 447.0,446.6 448.5,447.9 450.0,449.2 451.5,450.5 453.0,451.9 454.4,453.3 455.8,454.7 457.2,456.1 458.6,457.6 459.9,459.1 461.3,460.5 462.6,462.1 463.8,463.6 465.1,465.2 466.3,466.7 467.5,468.3 468.7,470.0 469.8,471.6 470.9,473.3 472.0,474.9 473.1,476.6 474.2,478.3 475.2,480.1 476.2,481.8 477.1,483.6 478.1,485.3 479.0,487.1 479.9,488.9 480.8,490.7 481.6,492.5 482.5,494.4 483.3,496.2 484.0,498.0 484.8,499.9 485.6,501.8 486.3,503.6 487.0,505.5 487.7,507.4 488.4,509.3 489.1,511.2 489.7,513.1 490.3,515.0 491.0,516.9 491.6,518.8 492.2,520.7 492.7,522.7 493.3,524.6 493.9,526.5 494.4,528.4 495.0,530.4 495.5,532.3 496.1,534.3 496.6,536.2 497.1,538.1 497.6,540.1 498.1,542.0 498.6,544.0 499.1,545.9 499.6,547.9 500.1,549.8 500.6,551.7 501.1,553.7 501.6,555.6 502.1,557.6 503.3,562.1"/>
<path d="M162.6,404.4 163.5,404.3 165.5,404.1 167.5,403.9 169.5,403.7 171.5,403.5 173.5,403.3 175.5,403.1 177.5,402.9 179.5,402.7 181.5,402.5 183.5,402.3 185.5,402.1 187.5,401.9 189.5,401.7 191.5,401.6 193.5,401.4 195.5,401.2 197.5,401.0 199.5,400.9 201.5,400.7 203.5,400.5 205.5,400.4 207.5,400.2 209.5,400.0 211.5,399.9 213.5,399.7 215.5,399.6 217.5,399.4 219.5,399.3 221.5,399.2 223.5,399.0 225.5,398.9 227.5,398.8 229.5,398.7 231.5,398.5 233.6,398.4 235.6,398.3 237.6,398.2 239.6,398.1 241.6,398.0 243.6,397.9 245.6,397.9 247.6,397.8 249.6,397.7 251.6,397.6 253.6,397.5 255.6,397.5 257.6,397.4 259.6,397.3 261.6,397.3 263.6,397.2 265.7,397.1 267.7,397.1 269.7,397.0 271.7,396.9 273.7,396.9 275.7,396.8 277.7,396.7 279.7,396.7 281.7,396.6 283.7,396.5 285.7,396.4 287.7,396.4 289.7,396.3 291.7,396.2 293.7,396.1 295.7,396.0 297.7,396.0 299.8,395.9 301.8,395.8 303.8,395.7 305.8,395.6 307.8,395.5 309.8,395.4 311.8,395.3 313.8,395.2 315.8,395.1 317.8,395.0 319.8,395.0 321.8,394.9 323.8,394.8 325.8,394.7 327.8,394.6 329.8,394.4 331.8,394.3 333.8,394.2 335.9,394.1 337.9,394.0 339.9,393.9 341.9,393.8 343.9,393.7 345.9,393.7 347.9,393.6 349.9,393.5 351.9,393.4 353.9,393.3 355.9,393.3 357.9,393.2 359.9,393.2 361.9,393.1 363.9,393.1 366.0,393.1 368.0,393.1 370.0,393.1 372.0,393.1 374.0,393.2 376.0,393.2 378.0,393.3 380.0,393.4 382.0,393.4 384.0,393.5 386.0,393.7 388.1,393.8 390.1,394.0 392.1,394.1 394.1,394.3 396.1,394.5 398.1,394.7 400.1,395.0 402.1,395.2 404.1,395.5 406.0,395.8 408.0,396.1 410.0,396.5 412.0,396.8 414.0,397.2 415.9,397.7 417.9,398.1 419.9,398.6 421.8,399.1 423.7,399.7 425.7,400.2 427.6,400.9 429.5,401.5 431.4,402.2 433.3,402.9 435.1,403.7 437.0,404.5 438.8,405.4 440.6,406.3 442.4,407.2 444.1,408.2 445.9,409.2 447.6,410.3 449.3,411.4 450.9,412.5 452.6,413.6 454.2,414.8 455.8,416.0 457.4,417.2 458.9,418.5 460.4,419.8 462.0,421.1 463.4,422.4 464.9,423.8 466.3,425.2 467.8,426.6 469.2,428.0 470.5,429.5 471.9,430.9 473.2,432.4 474.5,434.0 475.8,435.5 477.0,437.0 478.2,438.6 479.4,440.2 480.6,441.8 481.8,443.5 482.9,445.1 484.0,446.8 485.1,448.4 486.1,450.1 487.2,451.9 488.2,453.6 489.1,455.3 490.1,457.1 491.0,458.9 491.9,460.6 492.8,462.4 493.7,464.2 494.5,466.1 495.3,467.9 496.1,469.7 496.9,471.6 497.7,473.4 498.4,475.3 499.1,477.1 499.9,479.0 500.6,480.9 501.2,482.8 501.9,484.7 502.6,486.6 503.2,488.5 503.8,490.4 504.5,492.3 505.1,494.2 505.7,496.1 506.2,498.0 506.8,500.0 507.4,501.9 507.9,503.8 508.5,505.7 509.0,507.7 509.6,509.6 510.1,511.5 510.6,513.5 511.1,515.4 511.7,517.4 512.2,519.3 512.7,521.2 513.2,523.2 513.7,525.1 514.2,527.1 514.7,529.0 515.2,531.0 516.4,535.3"/>
<path d="M175.1,379.7 175.8,379.6 177.8,379.4 179.8,379.2 181.8,379.0 183.8,378.7 185.8,378.5 187.8,378.4 189.8,378.2 191.8,378.0 193.8,377.8 195.8,377.6 197.8,377.4 199.8,377.3 201.8,377.1 203.8,377.0 205.8,376.8 207.8,376.7 209.8,376.5 211.8,376.4 213.8,376.3 215.8,376.2 217.8,376.1 219.8,376.0 221.8,375.9 223.8,375.8 225.8,375.7 227.8,375.7 229.8,375.6 231.9,375.6 233.9,375.5 235.9,375.5 237.9,375.4 239.9,375.4 241.9,375.3 243.9,375.3 245.9,375.2 247.9,375.2 249.9,375.1 251.9,375.1 253.9,375.0 256.0,375.0 258.0,374.9 260.0,374.8 262.0,374.8 264.0,374.7 266.0,374.6 268.0,374.5 270.0,374.5 272.0,374.4 274.0,374.3 276.0,374.2 278.0,374.1 280.0,374.0 282.0,374.0 284.0,373.9 286.0,373.8 288.0,373.7 290.0,373.6 292.0,373.5 294.0,373.4 296.0,373.3 298.0,373.2 300.0,373.1 302.1,373.0 304.1,372.9 306.1,372.8 308.1,372.7 310.1,372.6 312.1,372.5 314.1,372.4 316.1,372.3 318.1,372.2 320.1,372.1 322.1,372.0 324.1,371.9 326.1,371.8 328.1,371.7 330.1,371.6 332.1,371.5 334.1,371.4 336.1,371.3 338.1,371.2 340.1,371.1 342.1,371.0 344.1,370.9 346.1,370.8 348.1,370.7 350.2,370.6 352.2,370.5 354.2,370.4 356.2,370.4 358.2,370.3 360.2,370.2 362.2,370.1 364.2,370.1 366.2,370.0 368.2,370.0 370.2,369.9 372.2,369.9 374.2,369.9 376.2,369.9 378.2,369.9 380.2,369.9 382.2,369.9 384.2,370.0 386.2,370.0 388.2,370.1 390.2,370.1 392.2,370.2 394.2,370.3 396.2,370.4 398.2,370.5 400.2,370.7 402.2,370.8 404.2,371.0 406.2,371.2 408.2,371.4 410.2,371.6 412.2,371.8 414.1,372.0 416.1,372.3 418.1,372.6 420.1,372.9 422.1,373.2 424.0,373.5 426.0,373.9 428.0,374.3 429.9,374.7 431.9,375.1 433.8,375.6 435.7,376.1 437.7,376.7 439.6,377.2 441.5,377.8 443.4,378.5 445.2,379.2 447.1,379.9 449.0,380.6 450.8,381.4 452.6,382.3 454.4,383.1 456.2,384.1 457.9,385.0 459.7,386.0 461.4,387.0 463.1,388.1 464.8,389.2 466.4,390.3 468.1,391.5 469.7,392.6 471.3,393.9 472.8,395.1 474.4,396.4 475.9,397.7 477.4,399.1 478.8,400.4 480.3,401.8 481.7,403.2 483.1,404.7 484.4,406.1 485.8,407.6 487.1,409.1 488.4,410.7 489.6,412.2 490.9,413.8 492.1,415.4 493.3,417.0 494.4,418.7 495.5,420.3 496.6,422.0 497.7,423.7 498.8,425.4 499.8,427.1 500.8,428.8 501.7,430.6 502.7,432.4 503.6,434.2 504.5,435.9 505.4,437.8 506.2,439.6 507.0,441.4 507.9,443.2 508.6,445.1 509.4,446.9 510.2,448.8 510.9,450.7 511.6,452.5 512.3,454.4 513.0,456.3 513.7,458.2 514.3,460.1 515.0,462.0 515.6,463.9 516.2,465.8 516.8,467.7 517.4,469.6 518.0,471.5 518.6,473.5 519.1,475.4 519.7,477.3 520.2,479.3 520.8,481.2 521.3,483.1 521.9,485.1 522.4,487.0 522.9,488.9 523.4,490.9 523.9,492.8 524.4,494.8 524.9,496.7 525.5,498.7 526.0,500.6 526.5,502.5 527.0,504.5 527.5,506.4 528.6,510.5"/>
<path d="M186.5,356.9 187.1,356.8 189.1,356.6 191.1,356.4 193.1,356.2 195.1,356.0 197.1,355.8 199.1,355.5 201.1,355.3 203.1,355.1 205.1,354.9 207.1,354.7 209.1,354.5 211.1,354.3 213.1,354.1 215.1,353.9 217.1,353.7 219.1,353.6 221.1,353.4 223.1,353.2 225.1,353.0 227.1,352.8 229.1,352.6 231.1,352.4 233.1,352.3 235.1,352.1 237.1,351.9 239.1,351.7 241.1,351.6 243.1,351.4 245.1,351.2 247.1,351.1 249.1,350.9 251.1,350.7 253.1,350.6 255.1,350.4 257.1,350.3 259.1,350.1 261.1,350.0 263.1,349.8 265.1,349.7 267.1,349.6 269.1,349.4 271.2,349.3 273.2,349.2 275.2,349.1 277.2,348.9 279.2,348.8 281.2,348.7 283.2,348.6 285.2,348.5 287.2,348.4 289.2,348.3 291.2,348.2 293.2,348.0 295.2,348.0 297.2,347.9 299.2,347.8 301.2,347.7 303.2,347.6 305.3,347.5 307.3,347.4 309.3,347.3 311.3,347.3 313.3,347.2 315.3,347.1 317.3,347.1 319.3,347.0 321.3,346.9 323.3,346.9 325.3,346.8 327.3,346.8 329.3,346.7 331.4,346.6 333.4,346.6 335.4,346.6 337.4,346.5 339.4,346.5 341.4,346.4 343.4,346.4 345.4,346.4 347.4,346.3 349.4,346.3 351.4,346.3 353.4,346.2 355.5,346.2 357.5,346.2 359.5,346.1 361.5,346.1 363.5,346.1 365.5,346.1 367.5,346.0 369.5,346.0 371.5,346.0 373.5,346.0 375.5,346.0 377.5,346.0 379.5,346.0 381.6,346.0 383.6,346.0 385.6,346.1 387.6,346.1 389.6,346.1 391.6,346.2 393.6,346.2 395.6,346.3 397.6,346.4 399.6,346.5 401.6,346.5 403.6,346.7 405.6,346.8 407.6,346.9 409.6,347.0 411.6,347.2 413.6,347.4 415.6,347.6 417.6,347.8 419.6,348.0 421.6,348.2 423.6,348.4 425.6,348.7 427.6,349.0 429.6,349.3 431.5,349.6 433.5,350.0 435.5,350.3 437.4,350.7 439.4,351.1 441.4,351.6 443.3,352.1 445.2,352.6 447.2,353.1 449.1,353.7 451.0,354.3 452.9,354.9 454.8,355.6 456.6,356.3 458.5,357.1 460.3,357.9 462.1,358.7 463.9,359.6 465.7,360.5 467.5,361.4 469.2,362.4 471.0,363.4 472.7,364.5 474.3,365.5 476.0,366.7 477.6,367.8 479.3,369.0 480.9,370.2 482.4,371.4 484.0,372.7 485.5,373.9 487.0,375.3 488.5,376.6 489.9,378.0 491.4,379.3 492.8,380.8 494.2,382.2 495.5,383.7 496.9,385.1 498.2,386.7 499.4,388.2 500.7,389.7 501.9,391.3 503.2,392.9 504.3,394.5 505.5,396.1 506.6,397.8 507.7,399.4 508.8,401.1 509.9,402.8 510.9,404.5 511.9,406.3 512.9,408.0 513.8,409.8 514.7,411.5 515.7,413.3 516.5,415.1 517.4,416.9 518.2,418.7 519.1,420.6 519.9,422.4 520.6,424.3 521.4,426.1 522.1,428.0 522.9,429.8 523.6,431.7 524.3,433.6 525.0,435.5 525.6,437.4 526.3,439.3 526.9,441.2 527.5,443.1 528.2,445.0 528.8,446.9 529.3,448.8 529.9,450.8 530.5,452.7 531.1,454.6 531.6,456.5 532.2,458.5 532.7,460.4 533.2,462.3 533.8,464.3 534.3,466.2 534.8,468.2 535.3,470.1 535.8,472.0 536.3,474.0 536.8,475.9 537.3,477.9 537.9,479.8 538.4,481.8 538.9,483.7 539.9,487.5"/>
<path d="M197.1,335.8 197.7,335.7 199.7,335.5 201.7,335.3 203.7,335.1 205.7,334.9 207.7,334.7 209.7,334.5 211.7,334.3 213.7,334.1 215.7,333.9 217.7,333.8 219.7,333.6 221.7,333.4 223.7,333.2 225.7,333.1 227.7,332.9 229.7,332.8 231.7,332.6 233.7,332.5 235.7,332.3 237.7,332.2 239.7,332.0 241.7,331.9 243.7,331.8 245.7,331.6 247.7,331.5 249.7,331.4 251.7,331.2 253.8,331.1 255.8,331.0 257.8,330.8 259.8,330.7 261.8,330.6 263.8,330.5 265.8,330.3 267.8,330.2 269.8,330.1 271.8,330.0 273.8,329.9 275.8,329.7 277.8,329.6 279.8,329.5 281.8,329.4 283.8,329.3 285.8,329.2 287.8,329.1 289.8,328.9 291.8,328.8 293.8,328.7 295.8,328.6 297.8,328.5 299.8,328.4 301.9,328.3 303.9,328.2 305.9,328.1 307.9,328.0 309.9,327.9 311.9,327.9 313.9,327.8 315.9,327.7 317.9,327.6 319.9,327.5 321.9,327.4 323.9,327.4 325.9,327.3 327.9,327.2 329.9,327.2 331.9,327.1 333.9,327.0 336.0,327.0 338.0,326.9 340.0,326.8 342.0,326.8 344.0,326.7 346.0,326.7 348.0,326.6 350.0,326.6 352.0,326.5 354.0,326.5 356.0,326.4 358.0,326.4 360.0,326.4 362.0,326.3 364.0,326.3 366.1,326.3 368.1,326.2 370.1,326.2 372.1,326.2 374.1,326.2 376.1,326.1 378.1,326.1 380.1,326.1 382.1,326.1 384.1,326.1 386.1,326.1 388.1,326.1 390.1,326.1 392.1,326.1 394.1,326.2 396.1,326.2 398.1,326.2 400.1,326.3 402.1,326.3 404.1,326.4 406.1,326.5 408.1,326.6 410.1,326.7 412.1,326.8 414.1,326.9 416.1,327.0 418.1,327.2 420.1,327.3 422.1,327.5 424.1,327.7 426.1,327.9 428.0,328.1 430.0,328.3 432.0,328.6 434.0,328.8 436.0,329.1 437.9,329.4 439.9,329.7 441.9,330.0 443.8,330.4 445.8,330.7 447.7,331.1 449.6,331.5 451.6,332.0 453.5,332.4 455.4,332.9 457.3,333.4 459.2,334.0 461.1,334.6 463.0,335.2 464.9,335.8 466.7,336.5 468.6,337.2 470.4,338.0 472.2,338.7 474.0,339.6 475.8,340.4 477.5,341.3 479.3,342.2 481.0,343.2 482.7,344.1 484.4,345.2 486.1,346.2 487.8,347.3 489.4,348.4 491.0,349.5 492.6,350.7 494.2,351.9 495.8,353.1 497.3,354.4 498.9,355.7 500.3,357.0 501.8,358.3 503.3,359.7 504.7,361.1 506.1,362.5 507.4,364.0 508.8,365.5 510.1,367.0 511.4,368.5 512.6,370.1 513.9,371.6 515.1,373.2 516.2,374.9 517.4,376.5 518.5,378.2 519.6,379.8 520.6,381.5 521.7,383.3 522.7,385.0 523.6,386.7 524.6,388.5 525.5,390.3 526.4,392.1 527.3,393.9 528.1,395.7 529.0,397.5 529.8,399.4 530.6,401.2 531.4,403.0 532.1,404.9 532.8,406.8 533.6,408.6 534.3,410.5 535.0,412.4 535.6,414.3 536.3,416.2 536.9,418.1 537.6,420.0 538.2,421.9 538.8,423.8 539.4,425.7 540.0,427.7 540.5,429.6 541.1,431.5 541.7,433.4 542.2,435.4 542.8,437.3 543.3,439.2 543.8,441.2 544.4,443.1 544.9,445.1 545.4,447.0 545.9,448.9 546.4,450.9 546.9,452.8 547.4,454.8 547.9,456.7 548.5,458.7 549.0,460.6 549.5,462.5 550.4,466.1"/>
<path d="M202.1,325.9 202.8,325.8 204.8,325.6 206.8,325.5 208.8,325.3 210.8,325.1 212.8,324.9 214.8,324.8 216.8,324.6 218.8,324.5 220.8,324.3 222.8,324.2 224.8,324.1 226.8,324.0 228.8,323.9 230.8,323.8 232.8,323.7 234.8,323.6 236.8,323.5 238.8,323.4 240.8,323.3 242.8,323.2 244.9,323.2 246.9,323.1 248.9,323.0 250.9,322.9 252.9,322.9 254.9,322.8 256.9,322.7 258.9,322.6 260.9,322.5 262.9,322.4 264.9,322.4 266.9,322.3 268.9,322.2 270.9,322.1 272.9,322.0 274.9,321.9 276.9,321.8 278.9,321.7 280.9,321.6 282.9,321.5 285.0,321.4 287.0,321.3 289.0,321.1 291.0,321.0 293.0,320.9 295.0,320.8 297.0,320.7 299.0,320.6 301.0,320.5 303.0,320.3 305.0,320.2 307.0,320.1 309.0,320.0 311.0,319.9 313.0,319.7 315.0,319.6 317.0,319.5 319.0,319.4 321.0,319.3 323.0,319.1 325.0,319.0 327.0,318.9 329.0,318.8 331.0,318.6 333.0,318.5 335.0,318.4 337.0,318.3 339.0,318.1 341.0,318.0 343.0,317.9 345.0,317.8 347.0,317.7 349.0,317.5 351.0,317.4 353.0,317.3 355.0,317.2 357.1,317.1 359.1,317.0 361.1,316.9 363.1,316.8 365.1,316.7 367.1,316.6 369.1,316.5 371.1,316.4 373.1,316.4 375.1,316.3 377.1,316.2 379.1,316.1 381.1,316.1 383.1,316.0 385.1,316.0 387.1,315.9 389.1,315.9 391.1,315.8 393.1,315.8 395.2,315.7 397.2,315.7 399.2,315.7 401.2,315.7 403.2,315.7 405.2,315.7 407.2,315.7 409.2,315.8 411.2,315.8 413.2,315.9 415.2,315.9 417.2,316.0 419.2,316.1 421.2,316.2 423.2,316.3 425.2,316.4 427.2,316.6 429.2,316.7 431.2,316.9 433.2,317.1 435.2,317.3 437.2,317.5 439.1,317.7 441.1,318.0 443.1,318.2 445.1,318.5 447.1,318.8 449.0,319.2 451.0,319.5 453.0,319.9 454.9,320.3 456.9,320.7 458.8,321.2 460.8,321.7 462.7,322.2 464.6,322.8 466.5,323.3 468.4,324.0 470.3,324.6 472.2,325.3 474.0,326.0 475.9,326.8 477.7,327.6 479.5,328.5 481.3,329.3 483.1,330.2 484.8,331.2 486.6,332.2 488.3,333.2 490.0,334.3 491.7,335.3 493.3,336.5 495.0,337.6 496.6,338.8 498.2,340.0 499.7,341.3 501.3,342.5 502.8,343.8 504.3,345.1 505.8,346.5 507.2,347.9 508.7,349.3 510.1,350.7 511.4,352.2 512.8,353.6 514.1,355.1 515.4,356.7 516.7,358.2 518.0,359.8 519.2,361.4 520.4,363.0 521.6,364.6 522.7,366.3 523.8,367.9 524.9,369.6 526.0,371.3 527.0,373.0 528.0,374.8 529.0,376.5 529.9,378.3 530.8,380.1 531.7,381.9 532.6,383.7 533.4,385.5 534.3,387.3 535.1,389.2 535.9,391.0 536.6,392.9 537.4,394.8 538.1,396.6 538.8,398.5 539.5,400.4 540.2,402.3 540.9,404.2 541.5,406.1 542.2,408.0 542.8,409.9 543.4,411.8 544.0,413.7 544.6,415.6 545.2,417.6 545.7,419.5 546.3,421.4 546.8,423.3 547.4,425.3 547.9,427.2 548.4,429.2 549.0,431.1 549.5,433.0 550.0,435.0 550.5,436.9 551.0,438.9 551.5,440.8 552.0,442.7 552.5,444.7 553.0,446.6 553.5,448.6 554.0,450.5 554.6,452.5 555.4,455.8"/>
<path d="M211.7,306.8 212.4,306.7 214.4,306.5 216.4,306.4 218.4,306.2 220.4,306.0 222.4,305.9 224.4,305.7 226.4,305.5 228.4,305.4 230.4,305.3 232.4,305.1 234.4,305.0 236.4,304.9 238.4,304.7 240.4,304.6 242.4,304.5 244.4,304.4 246.4,304.3 248.4,304.2 250.4,304.1 252.4,304.0 254.4,303.9 256.4,303.8 258.4,303.7 260.4,303.6 262.4,303.5 264.5,303.4 266.5,303.3 268.5,303.2 270.5,303.1 272.5,302.9 274.5,302.8 276.5,302.7 278.5,302.6 280.5,302.5 282.5,302.4 284.5,302.3 286.5,302.2 288.5,302.0 290.5,301.9 292.5,301.8 294.5,301.7 296.5,301.6 298.5,301.4 300.5,301.3 302.5,301.2 304.5,301.1 306.5,301.0 308.5,300.8 310.5,300.7 312.5,300.6 314.5,300.5 316.5,300.4 318.5,300.2 320.5,300.1 322.5,300.0 324.5,299.9 326.5,299.8 328.5,299.6 330.6,299.5 332.6,299.4 334.6,299.3 336.6,299.2 338.6,299.1 340.6,299.0 342.6,298.8 344.6,298.7 346.6,298.6 348.6,298.5 350.6,298.4 352.6,298.3 354.6,298.2 356.6,298.1 358.6,298.0 360.6,297.9 362.6,297.9 364.6,297.8 366.6,297.7 368.6,297.6 370.6,297.5 372.6,297.5 374.7,297.4 376.7,297.3 378.7,297.3 380.7,297.2 382.7,297.1 384.7,297.1 386.7,297.0 388.7,297.0 390.7,296.9 392.7,296.9 394.7,296.8 396.7,296.8 398.7,296.8 400.7,296.8 402.7,296.7 404.7,296.7 406.7,296.7 408.7,296.7 410.7,296.8 412.8,296.8 414.8,296.8 416.8,296.8 418.8,296.9 420.8,297.0 422.8,297.0 424.8,297.1 426.8,297.2 428.8,297.3 430.8,297.4 432.7,297.5 434.7,297.7 436.7,297.8 438.7,298.0 440.7,298.2 442.7,298.4 444.7,298.6 446.7,298.8 448.7,299.0 450.6,299.3 452.6,299.6 454.6,299.9 456.6,300.2 458.5,300.5 460.5,300.9 462.4,301.3 464.4,301.7 466.3,302.1 468.3,302.6 470.2,303.1 472.1,303.6 474.0,304.1 475.9,304.7 477.8,305.3 479.7,306.0 481.6,306.6 483.4,307.4 485.3,308.1 487.1,308.9 488.9,309.7 490.7,310.6 492.4,311.5 494.2,312.4 495.9,313.4 497.7,314.4 499.4,315.4 501.0,316.5 502.7,317.6 504.3,318.7 506.0,319.9 507.6,321.1 509.1,322.3 510.7,323.6 512.2,324.8 513.7,326.1 515.2,327.5 516.7,328.8 518.1,330.2 519.5,331.6 520.9,333.1 522.3,334.5 523.6,336.0 525.0,337.5 526.3,339.1 527.5,340.6 528.7,342.2 529.9,343.8 531.1,345.4 532.3,347.1 533.4,348.8 534.5,350.4 535.5,352.2 536.6,353.9 537.6,355.6 538.5,357.4 539.5,359.1 540.4,360.9 541.3,362.7 542.2,364.5 543.0,366.3 543.9,368.2 544.7,370.0 545.5,371.9 546.2,373.7 547.0,375.6 547.7,377.5 548.4,379.3 549.1,381.2 549.8,383.1 550.4,385.0 551.1,386.9 551.7,388.8 552.4,390.7 553.0,392.6 553.6,394.5 554.2,396.5 554.7,398.4 555.3,400.3 555.9,402.2 556.4,404.2 557.0,406.1 557.5,408.0 558.0,410.0 558.6,411.9 559.1,413.9 559.6,415.8 560.1,417.7 560.6,419.7 561.1,421.6 561.6,423.6 562.1,425.5 562.6,427.5 563.1,429.4 563.6,431.4 564.1,433.3 565.0,436.4"/>
<path d="M216.3,297.7 216.9,297.7 218.9,297.5 220.9,297.3 222.9,297.1 224.9,297.0 226.9,296.8 228.9,296.7 230.9,296.5 233.0,296.4 235.0,296.2 237.0,296.1 239.0,296.0 241.0,295.9 243.0,295.7 245.0,295.6 247.0,295.5 249.0,295.4 251.0,295.3 253.0,295.2 255.0,295.0 257.0,294.9 259.0,294.8 261.0,294.7 263.0,294.6 265.0,294.5 267.0,294.4 269.0,294.3 271.0,294.2 273.0,294.0 275.0,293.9 277.0,293.8 279.1,293.7 281.1,293.6 283.1,293.5 285.1,293.3 287.1,293.2 289.1,293.1 291.1,293.0 293.1,292.9 295.1,292.7 297.1,292.6 299.1,292.5 301.1,292.4 303.1,292.3 305.1,292.1 307.1,292.0 309.1,291.9 311.1,291.8 313.1,291.7 315.1,291.6 317.1,291.4 319.1,291.3 321.1,291.2 323.1,291.1 325.1,291.0 327.1,290.9 329.1,290.8 331.1,290.7 333.1,290.6 335.1,290.4 337.1,290.3 339.1,290.2 341.1,290.1 343.1,290.0 345.2,289.9 347.2,289.8 349.2,289.7 351.2,289.6 353.2,289.5 355.2,289.4 357.2,289.4 359.2,289.3 361.2,289.2 363.2,289.1 365.2,289.0 367.2,288.9 369.2,288.8 371.2,288.8 373.2,288.7 375.2,288.6 377.2,288.5 379.2,288.5 381.2,288.4 383.2,288.3 385.3,288.2 387.3,288.2 389.3,288.1 391.3,288.0 393.3,288.0 395.3,287.9 397.3,287.9 399.3,287.8 401.3,287.7 403.3,287.7 405.3,287.6 407.3,287.6 409.3,287.6 411.3,287.5 413.3,287.5 415.3,287.5 417.3,287.5 419.3,287.5 421.3,287.5 423.3,287.5 425.3,287.5 427.3,287.6 429.3,287.6 431.3,287.7 433.4,287.8 435.4,287.9 437.4,288.0 439.4,288.1 441.4,288.2 443.3,288.3 445.3,288.5 447.3,288.7 449.3,288.9 451.3,289.1 453.3,289.3 455.3,289.5 457.3,289.8 459.3,290.1 461.3,290.4 463.2,290.7 465.2,291.0 467.2,291.4 469.1,291.8 471.1,292.2 473.0,292.7 475.0,293.2 476.9,293.7 478.8,294.2 480.8,294.8 482.7,295.4 484.6,296.1 486.4,296.7 488.3,297.5 490.2,298.2 492.0,299.0 493.8,299.9 495.6,300.7 497.4,301.7 499.1,302.6 500.9,303.6 502.6,304.6 504.3,305.7 506.0,306.8 507.7,307.9 509.3,309.1 510.9,310.2 512.5,311.5 514.1,312.7 515.6,314.0 517.1,315.3 518.6,316.6 520.1,318.0 521.6,319.4 523.0,320.8 524.4,322.2 525.7,323.7 527.1,325.2 528.4,326.7 529.7,328.2 531.0,329.8 532.2,331.4 533.4,333.0 534.6,334.6 535.8,336.2 536.9,337.9 538.0,339.6 539.1,341.3 540.1,343.0 541.2,344.7 542.2,346.4 543.1,348.2 544.1,350.0 545.0,351.8 545.9,353.6 546.8,355.4 547.6,357.2 548.4,359.0 549.2,360.9 550.0,362.7 550.8,364.6 551.5,366.4 552.3,368.3 553.0,370.2 553.7,372.1 554.4,374.0 555.0,375.9 555.7,377.8 556.3,379.7 556.9,381.6 557.6,383.5 558.2,385.4 558.7,387.3 559.3,389.2 559.9,391.2 560.4,393.1 561.0,395.0 561.5,397.0 562.1,398.9 562.6,400.8 563.1,402.8 563.7,404.7 564.2,406.7 564.7,408.6 565.2,410.5 565.7,412.5 566.2,414.4 566.7,416.4 567.2,418.3 567.7,420.3 568.2,422.2 568.7,424.1 569.5,427.2"/>
<path d="M220.9,288.6 221.4,288.6 223.4,288.4 225.4,288.2 227.4,288.0 229.4,287.8 231.4,287.6 233.4,287.4 235.4,287.2 237.4,287.0 239.4,286.9 241.4,286.7 243.4,286.5 245.4,286.4 247.4,286.2 249.4,286.0 251.4,285.9 253.4,285.7 255.4,285.6 257.4,285.4 259.4,285.2 261.4,285.1 263.4,284.9 265.4,284.8 267.4,284.6 269.4,284.5 271.4,284.3 273.4,284.2 275.4,284.1 277.4,283.9 279.4,283.8 281.4,283.6 283.4,283.5 285.4,283.3 287.4,283.2 289.4,283.1 291.4,282.9 293.4,282.8 295.4,282.7 297.4,282.5 299.4,282.4 301.4,282.3 303.4,282.2 305.4,282.0 307.4,281.9 309.4,281.8 311.4,281.7 313.4,281.5 315.5,281.4 317.5,281.3 319.5,281.2 321.5,281.1 323.5,281.0 325.5,280.8 327.5,280.7 329.5,280.6 331.5,280.5 333.5,280.4 335.5,280.3 337.5,280.2 339.5,280.1 341.5,280.0 343.5,279.9 345.5,279.8 347.5,279.7 349.5,279.6 351.5,279.5 353.5,279.4 355.6,279.3 357.6,279.3 359.6,279.2 361.6,279.1 363.6,279.0 365.6,278.9 367.6,278.9 369.6,278.8 371.6,278.7 373.6,278.6 375.6,278.6 377.6,278.5 379.6,278.4 381.6,278.4 383.6,278.3 385.7,278.2 387.7,278.2 389.7,278.1 391.7,278.0 393.7,278.0 395.7,277.9 397.7,277.9 399.7,277.8 401.7,277.8 403.7,277.7 405.7,277.7 407.7,277.6 409.7,277.6 411.7,277.6 413.8,277.5 415.8,277.5 417.8,277.5 419.8,277.5 421.8,277.5 423.8,277.5 425.8,277.6 427.8,277.6 429.8,277.6 431.8,277.7 433.8,277.8 435.8,277.8 437.8,277.9 439.9,278.0 441.9,278.1 443.9,278.2 445.9,278.4 447.9,278.5 449.9,278.7 451.9,278.9 453.9,279.1 455.9,279.3 457.9,279.5 459.9,279.8 461.9,280.1 463.8,280.3 465.8,280.7 467.8,281.0 469.8,281.3 471.8,281.7 473.7,282.1 475.7,282.6 477.7,283.0 479.6,283.5 481.6,284.0 483.5,284.6 485.4,285.2 487.3,285.8 489.2,286.5 491.1,287.2 493.0,287.9 494.9,288.7 496.7,289.5 498.6,290.4 500.4,291.3 502.1,292.2 503.9,293.1 505.7,294.1 507.4,295.2 509.1,296.3 510.8,297.4 512.5,298.5 514.1,299.7 515.7,300.9 517.3,302.1 518.9,303.4 520.4,304.7 522.0,306.0 523.5,307.3 524.9,308.7 526.4,310.1 527.8,311.6 529.2,313.0 530.5,314.5 531.9,316.0 533.2,317.5 534.5,319.1 535.7,320.7 537.0,322.3 538.2,323.9 539.3,325.5 540.5,327.2 541.6,328.8 542.7,330.5 543.7,332.3 544.8,334.0 545.8,335.7 546.8,337.5 547.7,339.2 548.6,341.0 549.5,342.8 550.4,344.6 551.3,346.4 552.1,348.3 552.9,350.1 553.7,352.0 554.5,353.8 555.3,355.7 556.0,357.5 556.7,359.4 557.4,361.3 558.1,363.2 558.8,365.1 559.5,367.0 560.1,368.9 560.8,370.8 561.4,372.7 562.0,374.6 562.6,376.5 563.2,378.4 563.8,380.3 564.3,382.3 564.9,384.2 565.4,386.1 566.0,388.1 566.5,390.0 567.1,391.9 567.6,393.9 568.1,395.8 568.6,397.8 569.1,399.7 569.6,401.6 570.1,403.6 570.6,405.5 571.1,407.5 571.6,409.4 572.1,411.4 572.7,413.3 573.2,415.3 573.9,418.2"/>
<path d="M225.2,280.1 225.7,280.0 227.7,279.8 229.7,279.6 231.7,279.4 233.7,279.2 235.7,279.0 237.7,278.9 239.7,278.7 241.7,278.5 243.7,278.3 245.7,278.2 247.7,278.0 249.7,277.8 251.7,277.7 253.7,277.5 255.7,277.4 257.7,277.2 259.7,277.1 261.7,276.9 263.7,276.7 265.7,276.6 267.7,276.4 269.7,276.3 271.7,276.2 273.7,276.0 275.7,275.9 277.7,275.7 279.7,275.6 281.7,275.4 283.7,275.3 285.7,275.1 287.7,275.0 289.7,274.9 291.7,274.7 293.7,274.6 295.7,274.5 297.7,274.3 299.7,274.2 301.7,274.1 303.8,273.9 305.8,273.8 307.8,273.7 309.8,273.5 311.8,273.4 313.8,273.3 315.8,273.2 317.8,273.0 319.8,272.9 321.8,272.8 323.8,272.7 325.8,272.6 327.8,272.5 329.8,272.3 331.8,272.2 333.8,272.1 335.8,272.0 337.8,271.9 339.8,271.8 341.8,271.7 343.8,271.6 345.8,271.5 347.8,271.4 349.8,271.3 351.9,271.2 353.9,271.1 355.9,271.0 357.9,270.9 359.9,270.8 361.9,270.7 363.9,270.6 365.9,270.6 367.9,270.5 369.9,270.4 371.9,270.3 373.9,270.2 375.9,270.2 377.9,270.1 379.9,270.0 381.9,270.0 384.0,269.9 386.0,269.8 388.0,269.8 390.0,269.7 392.0,269.6 394.0,269.6 396.0,269.5 398.0,269.5 400.0,269.4 402.0,269.4 404.0,269.3 406.0,269.3 408.0,269.2 410.0,269.2 412.1,269.1 414.1,269.1 416.1,269.1 418.1,269.1 420.1,269.1 422.1,269.0 424.1,269.0 426.1,269.1 428.1,269.1 430.1,269.1 432.1,269.1 434.1,269.2 436.1,269.2 438.1,269.3 440.2,269.4 442.2,269.4 444.2,269.5 446.2,269.7 448.2,269.8 450.2,269.9 452.2,270.1 454.2,270.2 456.2,270.4 458.2,270.6 460.2,270.8 462.2,271.0 464.2,271.3 466.2,271.6 468.1,271.8 470.1,272.1 472.1,272.5 474.1,272.8 476.1,273.2 478.0,273.6 480.0,274.0 482.0,274.5 483.9,275.0 485.9,275.5 487.8,276.1 489.7,276.6 491.6,277.3 493.5,277.9 495.4,278.6 497.3,279.3 499.2,280.1 501.0,280.9 502.8,281.8 504.6,282.7 506.4,283.6 508.2,284.6 510.0,285.6 511.7,286.6 513.4,287.7 515.1,288.8 516.8,289.9 518.4,291.1 520.0,292.3 521.6,293.5 523.2,294.8 524.7,296.1 526.2,297.4 527.7,298.7 529.2,300.1 530.7,301.5 532.1,303.0 533.5,304.4 534.8,305.9 536.2,307.4 537.5,308.9 538.8,310.5 540.0,312.1 541.2,313.7 542.4,315.3 543.6,316.9 544.8,318.6 545.9,320.2 547.0,321.9 548.0,323.6 549.1,325.4 550.1,327.1 551.0,328.9 552.0,330.6 552.9,332.4 553.8,334.2 554.7,336.0 555.6,337.8 556.4,339.6 557.2,341.5 558.0,343.3 558.8,345.2 559.6,347.0 560.3,348.9 561.1,350.8 561.8,352.7 562.5,354.5 563.1,356.4 563.8,358.3 564.4,360.2 565.1,362.1 565.7,364.0 566.3,366.0 566.9,367.9 567.5,369.8 568.1,371.7 568.7,373.6 569.2,375.6 569.8,377.5 570.3,379.4 570.8,381.4 571.4,383.3 571.9,385.2 572.4,387.2 572.9,389.1 573.4,391.1 573.9,393.0 574.5,395.0 575.0,396.9 575.5,398.8 576.0,400.8 576.5,402.7 577.0,404.7 577.5,406.6 578.2,409.4"/>
<path d="M229.4,271.7 229.9,271.6 231.9,271.4 233.9,271.3 235.9,271.1 237.9,270.9 239.9,270.7 241.9,270.5 243.9,270.3 245.9,270.2 247.9,270.0 249.9,269.8 251.9,269.7 253.9,269.5 255.9,269.3 257.9,269.2 259.9,269.0 261.9,268.8 263.9,268.7 265.9,268.5 267.9,268.4 269.9,268.2 271.9,268.1 273.9,267.9 275.9,267.8 277.9,267.6 279.9,267.5 281.9,267.3 283.9,267.2 285.9,267.0 287.9,266.9 289.9,266.8 291.9,266.6 293.9,266.5 295.9,266.3 297.9,266.2 299.9,266.1 301.9,265.9 303.9,265.8 305.9,265.7 308.0,265.5 310.0,265.4 312.0,265.3 314.0,265.2 316.0,265.0 318.0,264.9 320.0,264.8 322.0,264.7 324.0,264.5 326.0,264.4 328.0,264.3 330.0,264.2 332.0,264.1 334.0,264.0 336.0,263.9 338.0,263.7 340.0,263.6 342.0,263.5 344.0,263.4 346.0,263.3 348.0,263.2 350.0,263.1 352.0,263.0 354.1,262.9 356.1,262.8 358.1,262.7 360.1,262.6 362.1,262.5 364.1,262.5 366.1,262.4 368.1,262.3 370.1,262.2 372.1,262.1 374.1,262.0 376.1,261.9 378.1,261.8 380.1,261.8 382.1,261.7 384.1,261.6 386.1,261.5 388.2,261.4 390.2,261.4 392.2,261.3 394.2,261.2 396.2,261.1 398.2,261.0 400.2,261.0 402.2,260.9 404.2,260.8 406.2,260.8 408.2,260.7 410.2,260.6 412.2,260.5 414.2,260.5 416.3,260.4 418.3,260.4 420.3,260.3 422.3,260.3 424.3,260.3 426.3,260.2 428.3,260.2 430.3,260.2 432.3,260.2 434.3,260.2 436.3,260.2 438.4,260.3 440.4,260.3 442.4,260.4 444.4,260.4 446.4,260.5 448.4,260.6 450.4,260.7 452.4,260.8 454.4,260.9 456.4,261.1 458.4,261.2 460.4,261.4 462.4,261.6 464.5,261.8 466.5,262.0 468.5,262.3 470.4,262.5 472.4,262.8 474.4,263.1 476.4,263.5 478.4,263.8 480.4,264.2 482.4,264.6 484.3,265.0 486.3,265.5 488.3,266.0 490.2,266.5 492.2,267.1 494.1,267.6 496.0,268.3 497.9,268.9 499.9,269.6 501.7,270.4 503.6,271.2 505.5,272.0 507.3,272.8 509.1,273.7 510.9,274.7 512.7,275.7 514.5,276.7 516.2,277.7 517.9,278.8 519.6,279.9 521.3,281.1 522.9,282.2 524.5,283.5 526.1,284.7 527.7,286.0 529.2,287.3 530.8,288.6 532.3,290.0 533.7,291.4 535.2,292.8 536.6,294.3 538.0,295.7 539.3,297.2 540.6,298.8 541.9,300.3 543.2,301.9 544.4,303.5 545.7,305.1 546.8,306.7 548.0,308.4 549.1,310.0 550.2,311.7 551.3,313.4 552.3,315.2 553.4,316.9 554.4,318.6 555.3,320.4 556.3,322.2 557.2,324.0 558.1,325.8 559.0,327.6 559.8,329.4 560.7,331.2 561.5,333.1 562.3,334.9 563.0,336.8 563.8,338.6 564.5,340.5 565.3,342.4 566.0,344.2 566.7,346.1 567.3,348.0 568.0,349.9 568.6,351.8 569.3,353.7 569.9,355.6 570.5,357.5 571.1,359.5 571.7,361.4 572.3,363.3 572.9,365.2 573.4,367.2 574.0,369.1 574.5,371.0 575.0,373.0 575.6,374.9 576.1,376.8 576.6,378.8 577.1,380.7 577.6,382.7 578.1,384.6 578.7,386.6 579.2,388.5 579.7,390.4 580.2,392.4 580.7,394.3 581.2,396.3 581.7,398.2 582.4,400.9"/>
<path d="M233.6,263.3 234.0,263.3 236.0,263.1 238.0,262.9 240.0,262.6 241.9,262.4 243.9,262.2 245.9,262.0 247.9,261.8 249.9,261.7 251.9,261.5 253.9,261.3 255.9,261.1 257.9,260.9 259.9,260.7 261.9,260.5 263.9,260.4 265.9,260.2 267.9,260.0 269.9,259.8 271.9,259.7 273.9,259.5 275.9,259.3 277.9,259.2 279.9,259.0 282.0,258.8 284.0,258.7 286.0,258.5 288.0,258.4 290.0,258.2 292.0,258.1 294.0,257.9 296.0,257.8 298.0,257.6 300.0,257.5 302.0,257.3 304.0,257.2 306.0,257.1 308.0,256.9 310.0,256.8 312.0,256.7 314.0,256.5 316.0,256.4 318.0,256.3 320.0,256.2 322.0,256.0 324.0,255.9 326.0,255.8 328.0,255.7 330.0,255.6 332.0,255.5 334.0,255.3 336.1,255.2 338.1,255.1 340.1,255.0 342.1,254.9 344.1,254.8 346.1,254.7 348.1,254.6 350.1,254.5 352.1,254.4 354.1,254.3 356.1,254.2 358.1,254.1 360.1,254.1 362.1,254.0 364.1,253.9 366.1,253.8 368.1,253.7 370.2,253.6 372.2,253.5 374.2,253.5 376.2,253.4 378.2,253.3 380.2,253.2 382.2,253.2 384.2,253.1 386.2,253.0 388.2,252.9 390.2,252.9 392.2,252.8 394.2,252.7 396.2,252.6 398.3,252.6 400.3,252.5 402.3,252.4 404.3,252.4 406.3,252.3 408.3,252.2 410.3,252.2 412.3,252.1 414.3,252.1 416.3,252.0 418.3,252.0 420.3,251.9 422.3,251.9 424.4,251.9 426.4,251.8 428.4,251.8 430.4,251.8 432.4,251.8 434.4,251.8 436.4,251.8 438.4,251.8 440.4,251.9 442.4,251.9 444.5,252.0 446.5,252.0 448.5,252.1 450.5,252.2 452.5,252.3 454.5,252.4 456.5,252.5 458.5,252.7 460.5,252.8 462.5,253.0 464.5,253.2 466.5,253.4 468.5,253.6 470.5,253.8 472.5,254.1 474.5,254.4 476.5,254.7 478.5,255.0 480.5,255.3 482.5,255.7 484.5,256.1 486.5,256.5 488.4,256.9 490.4,257.4 492.3,257.9 494.3,258.4 496.2,259.0 498.2,259.6 500.1,260.2 502.0,260.9 503.9,261.6 505.8,262.4 507.6,263.1 509.5,264.0 511.3,264.8 513.1,265.8 514.9,266.7 516.7,267.7 518.4,268.7 520.1,269.8 521.8,270.8 523.5,272.0 525.2,273.1 526.8,274.3 528.4,275.5 530.0,276.8 531.6,278.1 533.1,279.4 534.6,280.7 536.1,282.1 537.5,283.5 539.0,284.9 540.4,286.4 541.8,287.8 543.1,289.3 544.5,290.8 545.8,292.4 547.0,293.9 548.3,295.5 549.5,297.1 550.7,298.7 551.9,300.3 553.0,302.0 554.2,303.7 555.3,305.3 556.3,307.0 557.4,308.8 558.4,310.5 559.4,312.3 560.3,314.0 561.3,315.8 562.2,317.6 563.1,319.4 563.9,321.2 564.8,323.0 565.6,324.9 566.4,326.7 567.2,328.6 568.0,330.4 568.7,332.3 569.4,334.2 570.1,336.0 570.8,337.9 571.5,339.8 572.2,341.7 572.8,343.6 573.4,345.5 574.1,347.4 574.7,349.4 575.3,351.3 575.8,353.2 576.4,355.1 577.0,357.0 577.5,359.0 578.1,360.9 578.6,362.8 579.2,364.8 579.7,366.7 580.2,368.7 580.7,370.6 581.2,372.5 581.8,374.5 582.3,376.4 582.8,378.4 583.3,380.3 583.8,382.3 584.3,384.2 584.8,386.2 585.3,388.1 585.8,390.0 586.5,392.6"/>
<path d="M241.3,247.9 241.9,247.8 243.9,247.6 245.9,247.4 247.8,247.3 249.8,247.1 251.8,246.9 253.8,246.7 255.8,246.5 257.8,246.3 259.8,246.2 261.8,246.0 263.8,245.8 265.8,245.6 267.8,245.5 269.8,245.3 271.8,245.1 273.9,245.0 275.9,244.8 277.9,244.6 279.9,244.5 281.9,244.3 283.9,244.1 285.9,244.0 287.9,243.8 289.9,243.7 291.9,243.5 293.9,243.4 295.9,243.2 297.9,243.1 299.9,242.9 301.9,242.8 303.9,242.6 305.9,242.5 307.9,242.3 309.9,242.2 311.9,242.0 313.9,241.9 315.9,241.7 317.9,241.6 319.9,241.5 321.9,241.3 323.9,241.2 325.9,241.1 327.9,240.9 329.9,240.8 331.9,240.7 333.9,240.5 335.9,240.4 337.9,240.3 339.9,240.1 341.9,240.0 343.9,239.9 345.9,239.8 347.9,239.7 349.9,239.6 352.0,239.4 354.0,239.3 356.0,239.2 358.0,239.1 360.0,239.0 362.0,238.9 364.0,238.8 366.0,238.7 368.0,238.6 370.0,238.5 372.0,238.5 374.0,238.4 376.0,238.3 378.0,238.2 380.0,238.1 382.0,238.1 384.0,238.0 386.1,237.9 388.1,237.9 390.1,237.8 392.1,237.7 394.1,237.7 396.1,237.6 398.1,237.6 400.1,237.5 402.1,237.5 404.1,237.4 406.1,237.4 408.1,237.3 410.1,237.3 412.1,237.2 414.2,237.2 416.2,237.1 418.2,237.1 420.2,237.1 422.2,237.0 424.2,237.0 426.2,237.0 428.2,237.0 430.2,237.0 432.2,237.0 434.2,236.9 436.2,236.9 438.2,237.0 440.2,237.0 442.3,237.0 444.3,237.0 446.3,237.1 448.3,237.1 450.3,237.2 452.3,237.2 454.3,237.3 456.3,237.4 458.3,237.5 460.3,237.6 462.3,237.7 464.3,237.9 466.3,238.0 468.3,238.2 470.3,238.4 472.3,238.6 474.3,238.8 476.3,239.0 478.3,239.2 480.3,239.5 482.2,239.8 484.2,240.1 486.2,240.4 488.2,240.7 490.1,241.1 492.1,241.5 494.1,241.9 496.0,242.3 498.0,242.8 499.9,243.3 501.8,243.8 503.8,244.3 505.7,244.9 507.6,245.6 509.5,246.2 511.3,246.9 513.2,247.7 515.1,248.4 516.9,249.3 518.7,250.1 520.5,251.0 522.3,251.9 524.0,252.9 525.7,253.9 527.4,254.9 529.1,256.0 530.8,257.1 532.4,258.3 534.1,259.4 535.7,260.6 537.2,261.9 538.8,263.2 540.3,264.5 541.8,265.8 543.2,267.1 544.7,268.5 546.1,269.9 547.5,271.4 548.8,272.8 550.2,274.3 551.5,275.8 552.8,277.4 554.0,278.9 555.3,280.5 556.5,282.1 557.7,283.7 558.8,285.3 560.0,286.9 561.1,288.6 562.2,290.2 563.2,291.9 564.3,293.6 565.3,295.3 566.3,297.1 567.2,298.8 568.2,300.6 569.1,302.4 570.0,304.1 570.9,305.9 571.7,307.7 572.5,309.6 573.4,311.4 574.2,313.2 574.9,315.1 575.7,316.9 576.4,318.8 577.2,320.6 577.9,322.5 578.6,324.4 579.3,326.3 579.9,328.1 580.6,330.0 581.2,331.9 581.9,333.8 582.5,335.7 583.1,337.7 583.7,339.6 584.3,341.5 584.9,343.4 585.4,345.3 586.0,347.3 586.5,349.2 587.1,351.1 587.6,353.0 588.2,355.0 588.7,356.9 589.2,358.9 589.8,360.8 590.3,362.7 590.8,364.7 591.3,366.6 591.8,368.6 592.4,370.5 592.9,372.4 593.4,374.4 594.1,377.0"/>
</g>
<path d="M108.25,48V682.5H636" stroke="#111" stroke-width="1.8" fill="none"/>
<path d="M108,39.5L102.5,52.5L108,49L113.5,52.5Z" fill="#111"/>
<path d="M646.5,682.6L633.5,677.5L637,682.6L633.5,687.7Z" fill="#111"/>
<path d="M91,83.4H108.25M91,166.5H108.25M91,253.3H108.25M91,325.4H108.25M91,404H108.25M91,463.8H108.25M91,521.3H108.25M91,588.9H108.25M91,649H108.25M136.4,682.5V698.3M170.5,682.5V698.3M199.8,682.5V698.3M242.6,682.5V698.3M276.6,682.5V698.3M305.9,682.5V698.3M349.9,682.5V698.3M381.7,682.5V698.3M411.9,682.5V698.3M444.5,682.5V698.3M490,682.5V698.3M522.4,682.5V698.3M550.6,682.5V698.3M596,682.5V698.3" stroke="#111" stroke-width="2.6" fill="none"/>
<text x="16" y="88.89999999999999" font-size="19" fill="#1f3470">24000</text>
<text x="16" y="177.10000000000002" font-size="19" fill="#1f3470">14000</text>
<text x="16" y="259.2" font-size="19" fill="#1f3470">8000</text>
<text x="16" y="333.8" font-size="19" fill="#1f3470">6000</text>
<text x="16" y="412.1" font-size="19" fill="#1f3470">3000</text>
<text x="16" y="472.0" font-size="19" fill="#1f3470">2000</text>
<text x="16" y="525.9" font-size="19" fill="#1f3470">1400</text>
<text x="16" y="596.4" font-size="19" fill="#1f3470">900</text>
<text x="16" y="655.4" font-size="19" fill="#1f3470">600</text>
<text x="119.7" y="718" font-size="19" fill="#1f3470">0,4</text>
<text x="155.4" y="718" font-size="19" fill="#1f3470">0,5</text>
<text x="185.8" y="718" font-size="19" fill="#1f3470">0,6</text>
<text x="225.4" y="718" font-size="19" fill="#1f3470">0,8</text>
<text x="272.2" y="718" font-size="19" fill="#1f3470">1</text>
<text x="293" y="718" font-size="19" fill="#1f3470">1,2</text>
<text x="335" y="718" font-size="19" fill="#1f3470">1,6</text>
<text x="376.9" y="718" font-size="19" fill="#1f3470">2</text>
<text x="398.6" y="718" font-size="19" fill="#1f3470">2,1</text>
<text x="439" y="718" font-size="19" fill="#1f3470">3</text>
<text x="482.3" y="718" font-size="19" fill="#1f3470">4</text>
<text x="515.7" y="718" font-size="19" fill="#1f3470">5</text>
<text x="543.5" y="718" font-size="19" fill="#1f3470">6</text>
<text x="589" y="718" font-size="19" fill="#1f3470">8</text>
<text x="36.2" y="36" font-size="18" letter-spacing="0.9" fill="#1f3470">Pv,Pa</text>
<text x="617" y="718" font-size="19" fill="#1f3470">Q, 10<tspan font-size="13" dy="-12">3</tspan><tspan dy="12"> m</tspan><tspan font-size="13" dx="-5" dy="-12">3</tspan><tspan dx="-1" dy="12">/h</tspan></text>
<text x="302.25" y="80.25" font-size="13.5" fill="#1f3470" stroke="#1f3470" stroke-width="0.25">22</text>
<text x="281.10" y="97.05" font-size="12.5" fill="#1f3470" stroke="#1f3470" stroke-width="0.25">18,5</text>
<text x="280.90" y="119.50" font-size="12.5" fill="#1f3470" stroke="#1f3470" stroke-width="0.25">15</text>
<text x="269.60" y="147.10" font-size="12.5" fill="#1f3470" stroke="#1f3470" stroke-width="0.25">11</text>
<text x="245.95" y="187.20" font-size="12.5" fill="#1f3470" stroke="#1f3470" stroke-width="0.25">7,5</text>
<text x="226.55" y="220.50" font-size="12.5" fill="#1f3470" stroke="#1f3470" stroke-width="0.25">5,5</text>
<text x="199.85" y="242.05" font-size="10.5" fill="#1f3470" stroke="#1f3470" stroke-width="0.25">4</text>
<text x="178.60" y="275.50" font-size="11.5" fill="#1f3470" stroke="#1f3470" stroke-width="0.25">3</text>
<text x="114.60" y="309.05" font-size="13" fill="#1f3470" stroke="#1f3470" stroke-width="0.25">N=2,2 kW</text>
<text x="215.15" y="250.45" font-size="9.5" fill="#1f3470" stroke="#1f3470" stroke-width="0.25">4000</text>
<text x="208.90" y="262.05" font-size="9.5" fill="#1f3470" stroke="#1f3470" stroke-width="0.25">3800</text>
<text x="200.40" y="273.50" font-size="9.5" fill="#1f3470" stroke="#1f3470" stroke-width="0.25">3700</text>
<text x="195.70" y="280.05" font-size="9.5" fill="#1f3470" stroke="#1f3470" stroke-width="0.25">3600</text>
<text x="189.75" y="292.10" font-size="9.5" fill="#1f3470" stroke="#1f3470" stroke-width="0.25">3500</text>
<text x="186.00" y="301.50" font-size="9.5" fill="#1f3470" stroke="#1f3470" stroke-width="0.25">3400</text>
<text x="180.80" y="309.80" font-size="9.5" fill="#1f3470" stroke="#1f3470" stroke-width="0.25">3300</text>
<text x="172.50" y="327.75" font-size="9.5" fill="#1f3470" stroke="#1f3470" stroke-width="0.25">3100</text>
<text x="167.75" y="338.00" font-size="9.5" fill="#1f3470" stroke="#1f3470" stroke-width="0.25">3000</text>
<text x="200.75" y="349.30" font-size="9.5" fill="#1f3470" stroke="#1f3470" stroke-width="0.25">2800</text>
<text x="190.20" y="374.70" font-size="9.5" fill="#1f3470" stroke="#1f3470" stroke-width="0.25">2600</text>
<text x="178.35" y="401.70" font-size="9.5" fill="#1f3470" stroke="#1f3470" stroke-width="0.25">2400</text>
<text x="165.80" y="426.25" font-size="9.5" fill="#1f3470" stroke="#1f3470" stroke-width="0.25">2200</text>
<text x="152.80" y="454.30" font-size="9.5" fill="#1f3470" stroke="#1f3470" stroke-width="0.25">2000</text>
<text x="144.75" y="472.80" font-size="9.5" fill="#1f3470" stroke="#1f3470" stroke-width="0.25">1900</text>
<text x="130.00" y="486.40" font-size="9.5" fill="#1f3470" stroke="#1f3470" stroke-width="0.25">n=1800 rpm</text>
<text transform="translate(326.73,64.27) rotate(-63.3)" font-size="13.5" fill="#1f3470" stroke="#1f3470" stroke-width="0.4">η=0,422</text>
<text transform="translate(401.68,104.55) rotate(-63.3)" font-size="13.5" fill="#1f3470" stroke="#1f3470" stroke-width="0.4">0,549</text>
<text transform="translate(449.81,125.75) rotate(-63.3)" font-size="13.5" fill="#1f3470" stroke="#1f3470" stroke-width="0.4">0,618</text>
<text transform="translate(483.11,146.40) rotate(-63.3)" font-size="13.5" fill="#1f3470" stroke="#1f3470" stroke-width="0.4">0,678</text>
<text transform="translate(509.78,166.25) rotate(-63.3)" font-size="13.5" fill="#1f3470" stroke="#1f3470" stroke-width="0.4">0,67</text>
<text transform="translate(527.01,187.35) rotate(-63.3)" font-size="13.5" fill="#1f3470" stroke="#1f3470" stroke-width="0.4">0,664</text>
<text transform="translate(555.48,215.30) rotate(-63.3)" font-size="13.5" fill="#1f3470" stroke="#1f3470" stroke-width="0.4">0,612</text>
<text transform="translate(573.86,252.35) rotate(-63.3)" font-size="13.5" fill="#1f3470" stroke="#1f3470" stroke-width="0.4">0,529</text>
<text transform="translate(593.46,300.70) rotate(-63.3)" font-size="13.5" fill="#1f3470" stroke="#1f3470" stroke-width="0.4">0,416</text>
<text transform="translate(606.11,338.00) rotate(-63.3)" font-size="13.5" fill="#1f3470" stroke="#1f3470" stroke-width="0.4">0,317</text>
</svg></body></html>
